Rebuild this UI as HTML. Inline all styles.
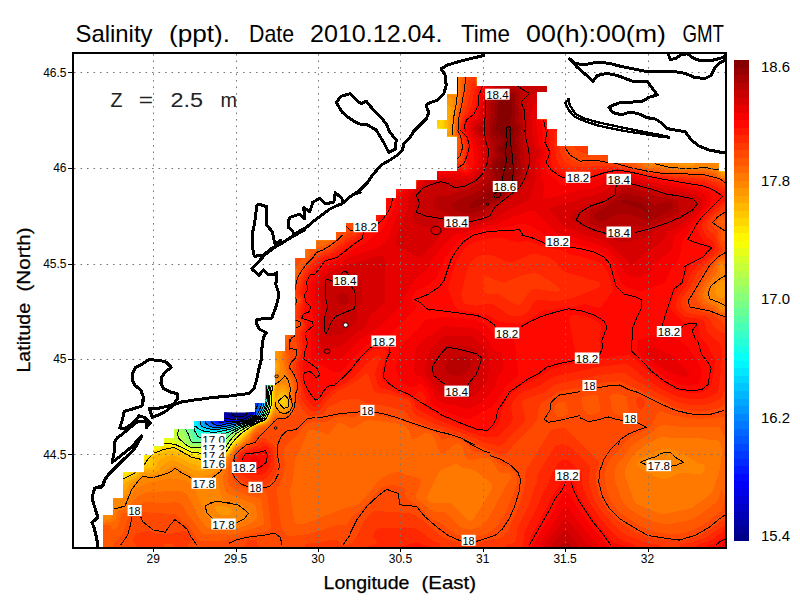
<!DOCTYPE html><html><head><meta charset="utf-8"><style>html,body{margin:0;padding:0;background:#fff;width:800px;height:600px;overflow:hidden}</style></head><body><svg width="800" height="600" viewBox="0 0 800 600" style="position:absolute;left:0;top:0">
<rect width="800" height="600" fill="#fff"/>
<defs><clipPath id="m"><path d="M103 548 103 515 113 515 113 498.2 123 498.2 123 472.5 144.2 472.5 144.2 455.5 154.2 455.5 154.2 446.8 164.2 446.8 164.2 438.2 174.2 438.2 174.2 429.5 194.2 429.5 194.2 421.2 224.2 421.2 224.2 412.5 255 412.5 255 403.5 265.5 403.5 265.5 385.5 275 385.5 275 351.2 285 351.2 285 335 295.5 335 295.5 258 305.5 258 305.5 249.2 316.2 249.2 316.2 240.5 336.2 240.5 336.2 232 346.2 232 346.2 223.2 376.2 223.2 376.2 215 386.2 215 386.2 198 396.2 198 396.2 189 416.8 189 416.8 180.5 437 180.5 437 171.2 457 171.2 457 136.2 447 136.2 447 128.2 437 128.2 437 120.2 447 120.2 447 94.5 457 94.5 457 77 476.2 77 476.2 86 547 86 547 92 537 92 537 119.8 547 119.8 547 129.2 557 129.2 557 146 588 146 588 155 608 155 608 163 718.8 163 718.8 171.8 726 171.8 726 548Z"/></clipPath></defs>
<g clip-path="url(#m)">
<rect x="74" y="54" width="652" height="494" fill="#000087"/>
<g fill-rule="evenodd" shape-rendering="crispEdges">
<path fill="#000097" d="M76 54 726 54 726 548 74 548 74 54ZM230.3 382 230.3 414 232.7 416 240 417.1 244 416.4 247.1 414 247.1 406 246.1 404 238.2 396 238.2 394 236.1 392 236.1 390 234.1 388 234.1 386 232.1 384 232 381.9Z"/>
<path fill="#0000a7" d="M76 54 726 54 726 548 74 548 74 54ZM226.9 376 226.9 414 228.5 416 234.7 418 240 418.2 244 417.6 246.8 416 249 414 249 408 248.1 406 238.3 396 238.3 394 236.3 392 236.3 390 234.3 388 234.3 386 232.2 384 232.2 382 230.2 380 230.1 378 228 376Z"/>
<path fill="#0000b7" d="M76 54 726 54 726 548 74 548 74 54ZM189.9 334 189.9 338 191.9 340 191.9 346 193.9 348 193.9 354 195.9 356 195.9 360 197.9 362 197.9 368 199.9 370 199.9 374 201.9 376 201.9 380 203.9 382 203.9 386 205.9 388 205.9 392 207.9 394 207.9 396 209.9 398 209.9 400 211.9 402 211.9 404 213.9 406 213.9 408 222 416.2 236 418.8 242 418.7 244.8 418 248.2 416 250.3 414 250.1 408 238.5 396 238.5 394 236.5 392 236.5 390 234.5 388 234.5 386 232.4 384 232.4 382 230.4 380 230.2 378 226.1 374 226.1 372 222.1 368 222.1 366 218.1 362 218.1 360 212.1 354 212 352 210 350 208 350 200 342 198 342 190 334Z"/>
<path fill="#0000c7" d="M76 54 726 54 726 548 74 548 74 54ZM189.8 334 189.8 338 191.8 340 191.8 346 193.8 348 193.8 354 195.8 356 195.8 360 197.8 362 197.8 368 199.8 370 199.8 374 201.8 376 201.8 380 203.8 382 203.8 386 205.8 388 205.8 392 207.8 394 207.8 396 209.7 398 209.7 400 211.7 402 211.7 404 213.7 406 213.7 408 224 418 238 419.4 242 419.2 246 418 249.3 416 251.1 414 251.1 410 250.3 408 238.7 396 238.7 394 236.7 392 236.7 390 234.6 388 234.6 386 232.6 384 232.6 382 230.6 380 230.3 378 226.2 374 226.2 372 222.2 368 222.2 366 218.2 362 218.2 360 212.2 354 212.1 352 210 349.9 208 349.9 200 341.9 198 341.9 190 333.9Z"/>
<path fill="#0000d7" d="M76 54 726 54 726 548 74 548 74 54ZM189.7 334 189.7 338 191.7 340 191.7 346 193.7 348 193.7 354 195.7 356 195.7 360 197.7 362 197.7 368 199.7 370 199.7 374 201.7 376 201.7 380 203.7 382 203.7 386 205.6 388 205.6 392 207.6 394 207.6 396 209.6 398 209.6 400 211.5 402 211.5 404 213.4 406 213.4 408 224 418.4 236 420 242 419.7 246 418.4 250.2 416 251.9 414 251.9 410 248.7 406 238.8 396 238.8 394 236.8 392 236.8 390 234.8 388 234.8 386 232.8 384 232.8 382 230.7 380 230.3 378 226.3 374 226.3 372 222.3 368 222.3 366 218.3 362 218.3 360 212.3 354 212.1 352 210 349.9 208 349.9 200 341.9 198 341.9 190 333.9Z"/>
<path fill="#0000e7" d="M76 54 726 54 726 548 74 548 74 54ZM189.6 334 189.6 338 191.6 340 191.6 346 193.6 348 193.6 354 195.6 356 195.6 360 197.6 362 197.6 368 199.6 370 199.6 374 201.6 376 201.6 380 203.6 382 203.6 386 205.5 388 205.5 392 207.5 394 207.5 396 209.4 398 209.4 400 211.3 402 211.3 404 213.2 406 213.2 408 222 417.2 224 418.9 226 419.6 238 420.3 242.8 420 246 418.8 251 416 252 414.8 252.4 414 252.2 410 239 396 239 394 237 392 237 390 235 388 235 386 233 384 233 382 230.9 380 230.4 378 226.3 374 226.3 372 222.3 368 222.3 366 218.3 362 218.3 360 212.3 354 212.2 352 210 349.8 208 349.8 200 341.8 198 341.8 190 333.8Z"/>
<path fill="#0000f7" d="M76 54 726 54 726 548 74 548 74 54ZM189.5 334 189.5 338 191.5 340 191.5 346 193.5 348 193.5 354 195.5 356 195.5 360 197.5 362 197.5 368 199.5 370 199.5 374 201.5 376 201.5 380 203.4 382 203.4 386 205.4 388 205.4 392 207.3 394 207.3 396 209.2 398 209.2 400 211.1 402 211.1 404 213 406 213 408 222 417.5 226 420.4 236 420.8 244.2 420 252 415.7 252.9 414 252.5 410 239.2 396 239.2 394 237.2 392 237.2 390 235.2 388 235.2 386 233.2 384 233.2 382 231.1 380 230.5 378 226.4 374 226.4 372 222.4 368 222.4 366 218.4 362 218.4 360 212.4 354 212.2 352 210 349.8 208 349.8 200 341.8 198 341.8 190 333.8Z"/>
<path fill="#0008ff" d="M76 54 726 54 726 548 74 548 74 54ZM189.5 334 189.5 338 191.5 340 191.5 346 193.5 348 193.5 354 195.5 356 195.5 360 197.5 362 197.5 368 199.4 370 199.4 374 201.4 376 201.4 380 203.3 382 203.3 386 205.3 388 205.3 392 207.2 394 207.2 396 209.1 398 209.1 400 211 402 211 404 212.8 406 212.8 408 222 417.9 226 421.1 236 421.2 245 420 252.4 416 253.4 414 252.7 410 239.4 396 239.4 394 237.4 392 237.4 390 235.4 388 235.4 386 233.3 384 233.3 382 231.3 380 230.6 378 226.5 374 226.5 372 222.5 368 222.5 366 218.5 362 218.5 360 212.5 354 212.3 352 210 349.7 208 349.7 200 341.7 198 341.7 190 333.7Z"/>
<path fill="#0018ff" d="M76 54 726 54 726 548 74 548 74 54ZM189.4 334 189.4 338 191.4 340 191.4 346 193.4 348 193.4 354 195.4 356 195.4 360 197.4 362 197.4 368 199.3 370 199.3 374 201.3 376 201.3 380 203.2 382 203.2 386 205.1 388 205.1 392 207 394 207 396 208.9 398 208.9 400 210.8 402 210.8 404 212.6 406 212.6 408 218 414 218.1 422 222 422.7 230 421.3 236 421.5 242 421 245.8 420 253 416 253.9 414 253.9 412 253 410 239.5 396 239.5 394 237.5 392 237.5 390 235.5 388 235.5 386 233.5 384 233.5 382 231.5 380 230.7 378 226.6 374 226.6 372 222.6 368 222.6 366 218.6 362 218.6 360 212.6 354 212.3 352 210 349.7 208 349.7 200 341.7 198 341.7 190 333.7Z"/>
<path fill="#0028ff" d="M76 54 726 54 726 548 74 548 74 54ZM189.3 334 189.3 338 191.3 340 191.3 346 193.3 348 193.3 354 195.3 356 195.3 360 197.3 362 197.3 368 199.2 370 199.2 374 201.2 376 201.2 380 203.1 382 203.1 386 205 388 205 392 206.9 394 206.9 396 208.7 398 208.7 400 210.6 402 210.6 404 212.4 406 212.4 408 215.8 412 215.8 422 218 423.3 220 423.7 230 421.9 242 421.3 246.4 420 253.5 416 254.4 414 254.4 412 253.3 410 239.7 396 239.7 394 237.7 392 237.7 390 235.7 388 235.7 386 233.7 384 233.7 382 231.7 380 230.8 378 226.7 374 226.7 372 222.7 368 222.7 366 218.7 362 218.7 360 212.7 354 212.3 352 210 349.7 208 349.7 200 341.7 198 341.7 190 333.7Z"/>
<path fill="#0038ff" d="M76 54 726 54 726 548 74 548 74 54ZM189.2 334 189.2 338 191.2 340 191.2 346 193.2 348 193.2 354 195.2 356 195.2 360 197.2 362 197.2 368 199.1 370 199.1 374 201.1 376 201.1 380 203 382 203 386 204.9 388 204.9 392 206.7 394 206.7 396 208.6 398 208.6 400 210.4 402 210.4 404 212.2 406 212.2 408 213.9 410 213.9 422 216.4 424 222 424.3 230 422.4 236 422.2 244 421.2 251.3 418 254.1 416 254.9 414 254.9 412 251.7 408 239.9 396 239.9 394 237.9 392 237.9 390 235.9 388 235.9 386 233.9 384 233.9 382 231.9 380 230.9 378 226.8 374 226.8 372 222.8 368 222.8 366 218.8 362 218.8 360 212.8 354 212.4 352 210 349.6 208 349.6 200 341.6 198 341.6 190 333.6Z"/>
<path fill="#0048ff" d="M76 54 726 54 726 548 74 548 74 54ZM189.1 334 189.1 338 191.1 340 191.1 346 193.1 348 193.1 354 195.1 356 195.1 360 197.1 362 197.1 368 199 370 199 374 200.9 376 200.9 380 202.8 382 202.8 386 204.7 388 204.7 392 206.6 394 206.6 396 208.4 398 208.4 400 210.2 402 210.2 404 212 406 212.1 422 214 424 216 424.7 222 424.9 230 422.9 244 421.5 252 418 254.5 416 255.4 414 255.4 412 252 408 252 407 256 407 256.4 406 256.8 396 256.1 394 254 393.9 248 387.9 246 387.9 244 385.9 242 385.9 240 383.9 238 383.9 234 379.9 232 379.9 231 378 226.9 374 226.9 372 222.9 368 222.9 366 218.9 362 218.9 360 212.9 354 212.4 352 210 349.6 208 349.6 200 341.6 198 341.6 190 333.6Z"/>
<path fill="#0058ff" d="M76 54 726 54 726 548 74 548 74 54ZM189 334 189 338 191 340 191 346 193 348 193 354 195 356 195 360 197 362 197 368 198.9 370 198.9 374 200.8 376 200.8 380 202.7 382 202.7 386 204.6 388 204.6 392 206.4 394 206.4 396 208.3 398 208.3 400 210 402 210.4 422 212.1 424 214 425 220 425.7 230 423.4 244 421.7 252 418.3 255 416 255.8 414 256.2 410 258.1 406 258.6 404 258.6 398 258.1 396 256 393.8 254 393.8 248 387.8 246 387.8 244 385.8 242 385.8 240 383.8 238 383.8 234 379.8 232 379.8 231.1 378 227 374 227 372 223 368 223 366 219 362 219 360 213 354 212.5 352 210 349.5 208 349.5 200 341.5 198 341.5 190 333.5Z"/>
<path fill="#0068ff" d="M76 54 726 54 726 548 74 548 74 54ZM188.9 334 188.9 338 190.9 340 190.9 346 192.9 348 192.9 354 194.9 356 194.9 360 196.9 362 196.9 368 198.8 370 198.8 374 200.7 376 200.7 380 202.6 382 202.6 386 204.5 388 204.5 392 206.3 394 206.3 396 208.1 398 208.1 400 208.8 402 208.8 422 210 423.7 214.3 426 221.9 426 230 424 244 422 252 418.6 255.5 416 256.4 414 257.3 410 259.9 404 259.9 398 256 393.6 254 393.6 248 387.6 246 387.6 244 385.6 242 385.6 240 383.6 238 383.6 234 379.6 232 379.6 231.1 378 227.1 374 227.1 372 223.1 368 223.1 366 219.1 362 219.1 360 213.1 354 212.5 352 210 349.5 208 349.5 200 341.5 198 341.5 190 333.5Z"/>
<path fill="#0078ff" d="M76 54 726 54 726 548 74 548 74 54ZM188.8 334 188.8 338 190.8 340 190.8 346 192.8 348 192.8 354 194.8 356 194.8 360 196.8 362 196.8 368 198.7 370 198.7 374 200.6 376 200.6 380 202.5 382 202.5 386 204.3 388 204.3 392 206.1 394 206.1 396 207.4 398 207.4 422 208.5 424 214 426.6 222 426.5 232 424.1 244 422.3 252 418.9 256 416 260.2 406 260.7 404 260.2 398 256 393.5 254 393.5 248 387.4 246 387.4 244 385.4 242 385.4 240 383.4 238 383.4 234 379.4 232 379.4 231.2 378 227.2 374 227.2 372 223.2 368 223.2 366 219.2 362 219.2 360 213.2 354 212.6 352 210 349.4 208 349.4 200 341.4 198 341.4 190 333.4Z"/>
<path fill="#0087ff" d="M76 54 726 54 726 548 74 548 74 54ZM188.7 334 188.7 338 190.7 340 190.7 346 192.7 348 192.7 354 194.7 356 194.7 360 196.7 362 196.7 368 198.6 370 198.6 374 200.5 376 200.5 380 202.4 382 202.4 386 204.2 388 204.2 392 206 394 206 422 206.8 424 210 426 214 427.2 220 427.2 244 422.5 252 419.2 254.4 418 256.5 416 260.9 406 261.5 404 261.5 400 260.4 398 256 393.3 254 393.3 248 387.3 246 387.3 244 385.3 242 385.3 240 383.3 238 383.3 234 379.3 232 379.3 227.3 374 227.3 372 223.3 368 223.3 366 219.3 362 219.3 360 213.3 354 212.6 352 210 349.4 208 349.4 200 341.4 198 341.4 190 333.4Z"/>
<path fill="#0097ff" d="M76 54 726 54 726 548 74 548 74 54ZM188.6 334 188.6 338 190.6 340 190.6 346 192.6 348 192.6 354 194.6 356 194.6 360 196.6 362 196.6 368 198.5 370 198.5 374 200.4 376 200.4 380 202.3 382 202.3 386 204.1 388 204.1 392 204.7 394 204.7 422 205.3 424 207.9 426 212 427.4 218 427.8 224 427 244 422.7 252 419.5 254.9 418 257 416 262 404.7 262.1 400 256 393.1 254 393.1 248 387.1 246 387.1 244 385.1 242 385.1 240 383.1 238 383.1 234 379.1 232 379.1 227.4 374 227.4 372 223.4 368 223.4 366 219.4 362 219.4 360 213.4 354 212.7 352 210 349.3 208 349.3 200 341.3 198 341.3 190 333.3Z"/>
<path fill="#00a7ff" d="M76 54 726 54 726 548 74 548 74 54ZM188.5 334 188.5 338 190.5 340 190.5 346 192.5 348 192.5 354 194.5 356 194.5 360 196.5 362 196.5 368 198.4 370 198.4 374 200.3 376 200.3 380 202.1 382 202.1 386 203.4 388 203.4 422 204 424.3 205.7 426 208 426.8 212 428.1 216 428.6 226 427.1 244 423 252 419.8 255.4 418 257.5 416 258.5 414 262.2 406 262.7 404 262.3 400 256 393 254 393 248 386.9 246 386.9 244 384.9 242 384.9 240 382.9 238 382.9 234 378.9 232 378.9 227.5 374 227.5 372 223.5 368 223.5 366 219.5 362 219.5 360 213.5 354 212.7 352 210 349.3 208 349.3 200 341.3 198 341.3 190 333.3Z"/>
<path fill="#00b7ff" d="M76 54 726 54 726 548 74 548 74 54ZM188.4 334 188.4 338 190.4 340 190.4 346 192.4 348 192.4 354 194.4 356 194.4 360 196.4 362 196.4 368 198.3 370 198.3 374 200.2 376 200.2 380 202 382 202.2 422 202.4 424 203.8 426 208 427.6 214 429.1 222 428.3 244 423.2 254 419.1 258 416 262 407.9 263.2 404 262.6 400 256 392.8 254 392.8 248 386.8 246 386.8 244 384.8 242 384.8 240 382.8 238 382.8 234 378.8 232 378.8 227.6 374 227.6 372 223.6 368 223.6 366 219.6 362 219.6 360 213.6 354 212.8 352 210 349.2 208 349.2 200 341.2 198 341.2 190 333.2Z"/>
<path fill="#00c7ff" d="M76 54 726 54 726 548 74 548 74 54ZM188.3 334 188.3 338 190.3 340 190.3 346 192.3 348 192.3 354 194.3 356 194.3 360 196.3 362 196.3 368 198.2 370 198.2 374 200.1 376 200.1 380 200.9 382 200.9 422 201.1 424 202.1 426 206.2 428 212 429.4 216 429.6 228 427.7 238 424.7 244 423.4 254 419.4 256.5 418 258.4 416 262 409 263.7 404 263.7 402 262.9 400 256 392.7 254 392.7 248 386.6 246 386.6 244 384.6 242 384.6 240 382.6 238 382.6 234 378.6 232 378.6 227.7 374 227.7 372 223.7 368 223.7 366 219.7 362 219.7 360 213.7 354 212.8 352 210 349.2 208 349.2 200 341.2 198 341.2 190 333.2Z"/>
<path fill="#00d7ff" d="M76 54 726 54 726 548 74 548 74 54ZM188.2 334 188.2 338 190.2 340 190.2 346 192.2 348 192.2 354 194.2 356 194.2 360 196.2 362 196.2 368 198.1 370 198.1 374 199.6 376 199.6 422 199.7 424 200.6 426 204 428.3 212 430 216 430.2 228 428.2 238 425 246 423.1 254 419.7 257 418 258.9 416 262 410.2 264.2 404 264.2 402 263.1 400 256 392.5 254 392.5 248 386.4 246 386.4 244 384.4 242 384.4 240 382.4 238 382.4 234 378.4 232 378.4 227.8 374 227.8 372 223.8 368 223.8 366 219.8 362 219.8 360 213.8 354 212.8 352 210 349.2 208 349.2 200 341.2 198 341.2 190 333.2Z"/>
<path fill="#00e7ff" d="M76 54 726 54 726 548 74 548 74 54ZM188.1 334 188.1 338 190.1 340 190.1 346 192.1 348 192.1 354 194.1 356 194.1 360 196.1 362 196.1 368 198 370 198.2 422 198.3 424 199.1 426 201.2 428 204 429.2 212 430.8 216 430.8 228 428.8 238 425.3 246 423.3 254 420 257.5 418 259.4 416 262 411.2 264.6 404 264.6 402 263.4 400 256 392.3 254 392.3 248 386.3 246 386.3 244 384.3 242 384.3 240 382.3 238 382.3 234 378.3 232 378.3 227.8 374 227.8 372 223.8 368 223.8 366 219.8 362 219.8 360 213.8 354 212.9 352 210 349.1 208 349.1 200 341.1 198 341.1 190 333.1Z"/>
<path fill="#00f7ff" d="M76 54 726 54 726 548 74 548 74 54ZM188 334 188 338 190 340 190 346 192 348 192 354 194 356 194 360 196 362 196.4 424 197.4 426 202 429.5 214 431.7 228 429.3 238 425.6 246 423.6 254.6 420 258 418 259.9 416 262.1 412 265 404 265.1 402 263.6 400 256 392.2 254 392.2 248 386.1 246 386.1 244 384.1 242 384.1 240 382.1 238 382.1 234 378.1 232 378.1 227.9 374 227.9 372 223.9 368 223.9 366 219.9 362 219.9 360 213.9 354 212.9 352 210 349.1 208 349.1 200 341.1 198 341.1 190 333.1Z"/>
<path fill="#08fff7" d="M76 54 726 54 726 548 74 548 74 54ZM123.9 266 123.9 270 125.9 272 125.9 274 127.9 276 127.9 280 129.9 282 129.9 284 131.9 286 131.9 290 133.9 292 133.9 294 135.9 296 135.9 300 137.9 302 137.9 304 139.9 306 139.9 310 141.9 312 141.9 314 143.9 316 143.9 320 145.9 322 145.9 324 147.9 326 147.9 330 149.9 332 149.9 334 151.9 336 151.9 340 153.9 342 153.9 344 155.9 346 155.9 350 157.9 352 157.9 354 159.9 356 159.9 360 161.9 362 161.9 364 163.9 366 163.9 370 165.9 372 165.9 374 167.9 376 167.9 380 169.9 382 169.9 384 171.9 386 171.9 390 173.9 392 173.9 394 175.9 396 175.9 400 177.9 402 177.9 404 179.9 406 179.9 408 181.9 410 181.9 412 183.8 414 183.8 416 194 426.1 196 426.4 202 430.5 212 432.4 214 432.4 228 429.9 237.9 426 246 423.8 255.2 420 258.5 418 260.3 416 264 408.7 265.5 402 263.9 400 264 398.5 266 398.5 266 393.1 258 393.1 256 392 254 392 254 390.3 266 390.3 266 376 264 376 258 370 256 370 254 368 252 368 250 366 248 366 246 364 244 364 242 362 238 362 236 360 232 360 230 358 228 358 226 356 220 356 218 354 214 354 213 352 210 349 208 349 200 341 198 341 190 333 188 333.9 186.1 332 186.1 330 172.1 316 172.1 314 158.1 300 158.1 298 144.1 284 144.1 282 136 273.9 134 273.9 130 269.9 128 269.9 124 265.9Z"/>
<path fill="#18ffe7" d="M76 54 726 54 726 548 74 548 74 54ZM123.7 266 123.7 270 125.7 272 125.7 274 127.7 276 127.7 280 129.7 282 129.7 284 131.7 286 131.7 290 133.7 292 133.7 294 135.7 296 135.7 300 137.7 302 137.7 304 139.7 306 139.7 310 141.7 312 141.7 314 143.7 316 143.7 320 145.7 322 145.7 324 147.7 326 147.7 330 149.7 332 149.7 334 151.7 336 151.7 340 153.7 342 153.7 344 155.7 346 155.7 350 157.7 352 157.7 354 159.7 356 159.7 360 161.7 362 161.7 364 163.7 366 163.7 370 165.7 372 165.7 374 167.7 376 167.7 380 169.7 382 169.7 384 171.7 386 171.7 390 173.7 392 173.7 394 175.7 396 175.7 400 177.7 402 177.7 404 179.7 406 179.7 408 181.7 410 181.7 412 183.6 414 183.6 416 194 426.6 200 430.8 202 431.6 212 433.3 228 430.5 255.7 420 258.9 418 260.8 416 265.3 406 266.4 398 266.9 386 266.9 378 266.1 376 264 375.9 258 369.9 256 369.9 254 367.9 252 367.9 250 365.9 248 365.9 246 363.9 244 363.9 242 361.9 238 361.9 236 359.9 232 359.9 230 357.9 228 357.9 226 355.9 220 355.9 218 353.9 214 353.9 213 352 210 349 208 349 200 341 198 341 190 333 188 333.8 186.2 332 186.2 330 172.2 316 172.2 314 158.2 300 158.2 298 144.2 284 144.2 282 136 273.9 134 273.9 130 269.9 128 269.9 124 265.9Z"/>
<path fill="#28ffd7" d="M76 54 726 54 726 548 74 548 74 54ZM123.6 266 123.6 270 125.6 272 125.6 274 127.6 276 127.6 280 129.6 282 129.6 284 131.6 286 131.6 290 133.6 292 133.6 294 135.6 296 135.6 300 137.6 302 137.6 304 139.6 306 139.6 310 141.6 312 141.6 314 143.6 316 143.6 320 145.6 322 145.6 324 147.6 326 147.6 330 149.6 332 149.6 334 151.6 336 151.6 340 153.6 342 153.6 344 155.6 346 155.6 350 157.6 352 157.6 354 159.6 356 159.6 360 161.6 362 161.6 364 163.6 366 163.6 370 165.6 372 165.6 374 167.6 376 167.6 380 169.6 382 169.6 384 171.6 386 171.6 390 173.6 392 173.6 394 175.6 396 175.6 400 177.6 402 177.6 404 179.6 406 179.6 408 181.5 410 181.5 412 183.5 414 183.5 416 196 429.1 200 432.2 202 433 212 434.4 221.8 432 228 431.1 239.9 426 246 424.3 256.3 420 259.4 418 261.3 416 265.7 406 266.8 398 266.8 392 267.5 386 267.5 378 266.2 376 264 375.8 258 369.8 256 369.8 254 367.8 252 367.8 250 365.8 248 365.8 246 363.8 244 363.8 242 361.8 238 361.8 236 359.8 232 359.8 230 357.8 228 357.8 226 355.8 220 355.8 218 353.8 214 353.8 213.1 352 210 348.9 208 348.9 200 340.9 198 340.9 190 332.9 188 333.8 186.2 332 186.2 330 172.2 316 172.2 314 158.2 300 158.2 298 144.2 284 144.2 282 136 273.8 134 273.8 130 269.8 128 269.8 124 265.8Z"/>
<path fill="#38ffc7" d="M76 54 726 54 726 548 74 548 74 54ZM123.5 266 123.5 270 125.5 272 125.5 274 127.5 276 127.5 280 129.5 282 129.5 284 131.5 286 131.5 290 133.5 292 133.5 294 135.5 296 135.5 300 137.5 302 137.5 304 139.5 306 139.5 310 141.5 312 141.5 314 143.5 316 143.5 320 145.5 322 145.5 324 147.5 326 147.5 330 149.5 332 149.5 334 151.5 336 151.5 340 153.5 342 153.5 344 155.5 346 155.5 350 157.5 352 157.5 354 159.5 356 159.5 360 161.5 362 161.5 364 163.5 366 163.5 370 165.5 372 165.5 374 167.5 376 167.5 380 169.5 382 169.5 384 171.5 386 171.5 390 173.5 392 173.5 394 175.5 396 175.5 400 177.5 402 177.5 404 179.4 406 179.4 408 181.3 410 181.3 412 183.3 414 183.3 416 194.8 428 196 430.6 200 434.2 210 435.5 214 435.2 220 433.2 228 431.8 240 426.4 246 424.6 256.9 420 259.9 418 261.7 416 266.1 406 267.2 398 267.3 390 268 386 268 378 266 375.7 264 375.7 258 369.7 256 369.7 254 367.7 252 367.7 250 365.7 248 365.7 246 363.7 244 363.7 242 361.7 238 361.7 236 359.7 232 359.7 230 357.7 228 357.7 226 355.7 220 355.7 218 353.7 214 353.7 213.1 352 210 348.9 208 348.9 200 340.9 198 340.9 190 332.9 188 333.7 186.3 332 186.3 330 172.3 316 172.3 314 158.3 300 158.3 298 144.3 284 144.3 282 136 273.7 134 273.7 130 269.7 128 269.7 124 265.7Z"/>
<path fill="#48ffb7" d="M76 54 726 54 726 548 74 548 74 54ZM123.3 266 123.3 270 125.3 272 125.3 274 127.3 276 127.3 280 129.3 282 129.3 284 131.3 286 131.3 290 133.3 292 133.3 294 135.3 296 135.3 300 137.3 302 137.3 304 139.3 306 139.3 310 141.3 312 141.3 314 143.3 316 143.3 320 145.3 322 145.3 324 147.3 326 147.3 330 149.3 332 149.3 334 151.3 336 151.3 340 153.3 342 153.3 344 155.3 346 155.3 350 157.3 352 157.3 354 159.3 356 159.3 360 161.3 362 161.3 364 163.3 366 163.3 370 165.3 372 165.3 374 167.3 376 167.3 380 169.3 382 169.3 384 171.3 386 171.3 390 173.3 392 173.3 394 175.3 396 175.3 400 177.3 402 177.3 404 179.3 406 179.3 408 181.2 410 181.2 412 183.1 414 183.1 416 194.1 428 194.2 430 198 436.1 200 437.4 206 436.6 212 436.8 220.2 434 226 433.2 240 426.8 246 424.9 257.4 420 260.4 418 262.2 416 266.5 406 268.4 386 268.1 378 266 375.6 264 375.6 258 369.6 256 369.6 254 367.6 252 367.6 250 365.6 248 365.6 246 363.6 244 363.6 242 361.6 238 361.6 236 359.6 232 359.6 230 357.6 228 357.6 226 355.6 220 355.6 218 353.6 214 353.6 213.2 352 210 348.8 208 348.8 200 340.8 198 340.8 190 332.8 188 333.6 186.4 332 186.4 330 172.4 316 172.4 314 158.4 300 158.4 298 144.4 284 144.4 282 136 273.6 134 273.6 130 269.6 128 269.6 124 265.7Z"/>
<path fill="#58ffa7" d="M76 54 726 54 726 548 74 548 74 54ZM123.2 266 123.2 270 125.2 272 125.2 274 127.2 276 127.2 280 129.2 282 129.2 284 131.2 286 131.2 290 133.2 292 133.2 294 135.2 296 135.2 300 137.2 302 137.2 304 139.2 306 139.2 310 141.2 312 141.2 314 143.2 316 143.2 320 145.2 322 145.2 324 147.2 326 147.2 330 149.2 332 149.2 334 151.2 336 151.2 340 153.2 342 153.2 344 155.2 346 155.2 350 157.2 352 157.2 354 159.2 356 159.2 360 161.2 362 161.2 364 163.2 366 163.2 370 165.2 372 165.2 374 167.2 376 167.2 380 169.2 382 169.2 384 171.2 386 171.2 390 173.2 392 173.2 394 175.2 396 175.2 400 177.2 402 177.2 404 179.1 406 179.1 408 181 410 181 412 182.9 414 182.9 416 192.2 426 192.8 430 196.5 438 198 439.1 200 439.4 212 438.1 220 435.4 226 434.1 238.3 428 258 420 260.9 418 262.6 416 266.8 406 268.8 386 268.8 380 268.2 378 266 375.5 264 375.5 258 369.5 256 369.5 254 367.5 252 367.5 250 365.5 248 365.5 246 363.5 244 363.5 242 361.5 238 361.5 236 359.5 232 359.5 230 357.5 228 357.5 226 355.5 220 355.5 218 353.5 214 353.5 213.2 352 210 348.8 208 348.8 200 340.8 198 340.8 190 332.8 188 333.5 186.5 332 186.5 330 172.5 316 172.5 314 158.5 300 158.5 298 144.5 284 144.5 282 136 273.6 134 273.6 130 269.6 128 269.6 124 265.6Z"/>
<path fill="#68ff97" d="M76 54 726 54 726 548 74 548 74 54ZM123 266 123 270 125 272 125 274 127 276 127 280 129 282 129 284 131 286 131 290 133 292 133 294 135 296 135 300 137 302 137 304 139 306 139 310 141 312 141 314 143 316 143 320 145 322 145 324 147 326 147 330 149 332 149 334 151 336 151 340 153 342 153 344 155 346 155 350 157 352 157 354 159 356 159 360 161 362 161 364 163 366 163 370 165 372 165 374 167 376 167 380 169 382 169 384 171 386 171 390 173 392 173 394 175 396 175 400 177 402 177 404 179 406 179 408 180.8 410 180.8 412 182.7 414 182.7 416 190.1 424 191.1 426 191.1 430 194.1 438 195.6 440 200 440.6 212 439.6 226 435.5 239.2 428 258 420.3 261.4 418 263.1 416 267.2 406 269.1 386 269.1 380 268.3 378 266 375.4 264 375.4 258 369.4 256 369.4 254 367.4 252 367.4 250 365.4 248 365.4 246 363.4 244 363.4 242 361.4 238 361.4 236 359.4 232 359.4 230 357.4 228 357.4 226 355.4 220 355.4 218 353.4 214 353.4 213.3 352 210 348.7 208 348.7 200 340.7 198 340.7 190 332.7 188 333.4 186.6 332 186.6 330 172.6 316 172.6 314 158.6 300 158.6 298 144.6 284 144.6 282 136 273.5 134 273.5 130 269.5 128 269.5 124 265.5Z"/>
<path fill="#78ff87" d="M76 54 726 54 726 548 74 548 74 54ZM122.9 266 122.9 270 124.9 272 124.9 274 126.9 276 126.9 280 128.9 282 128.9 284 130.9 286 130.9 290 132.9 292 132.9 294 134.9 296 134.9 300 136.9 302 136.9 304 138.9 306 138.9 310 140.9 312 140.9 314 142.9 316 142.9 320 144.9 322 144.9 324 146.9 326 146.9 330 148.9 332 148.9 334 150.9 336 150.9 340 152.9 342 152.9 344 154.9 346 154.9 350 156.9 352 156.9 354 158.9 356 158.9 360 160.9 362 160.9 364 162.9 366 162.9 370 164.9 372 164.9 374 166.9 376 166.9 380 168.9 382 168.9 384 170.9 386 170.9 390 172.9 392 172.9 394 174.9 396 174.9 400 176.9 402 176.9 404 178.8 406 178.8 408 180.6 410 180.6 412 182.5 414 182.5 416 188.1 422 188.7 424 188.7 430 192.8 440 194 441 196 441.7 212 441.2 216 440.5 226 437 232.7 432 240.2 428 259.1 420 261.9 418 263.5 416 267 408 268.2 402 268.6 392 269.5 386 269.5 380 268.4 378 266 375.4 264 375.4 258 369.3 256 369.3 254 367.3 252 367.3 250 365.3 248 365.3 246 363.3 244 363.3 242 361.3 238 361.3 236 359.4 232 359.4 230 357.4 228 357.4 226 355.4 220 355.4 218 353.4 214 353.4 213.3 352 210 348.7 208 348.7 200 340.7 198 340.7 190 332.7 188 333.3 186.7 332 186.7 330 172.7 316 172.7 314 158.7 300 158.7 298 144.7 284 144.7 282 136 273.4 134 273.4 130 269.4 128 269.4 124 265.4Z"/>
<path fill="#87ff78" d="M76 54 726 54 726 548 74 548 74 54ZM122.8 266 122.8 270 124.8 272 124.8 274 126.8 276 126.8 280 128.8 282 128.8 284 130.8 286 130.8 290 132.8 292 132.8 294 134.8 296 134.8 300 136.8 302 136.8 304 138.8 306 138.8 310 140.8 312 140.8 314 142.8 316 142.8 320 144.8 322 144.8 324 146.8 326 146.8 330 148.8 332 148.8 334 150.8 336 150.8 340 152.8 342 152.8 344 154.8 346 154.8 350 156.8 352 156.8 354 158.8 356 158.8 360 160.8 362 160.8 364 162.8 366 162.8 370 164.8 372 164.8 374 166.8 376 166.8 380 168.8 382 168.8 384 170.8 386 170.8 390 172.8 392 172.8 394 174.8 396 174.8 400 176.8 402 176.8 404 178.7 406 178.7 408 180.5 410 180.5 412 182.3 414 182.3 416 185.9 420 185.9 430 188.3 434 190.5 440 191.9 442 194 442.8 206 442.3 214 442.9 218 442.4 224 440.1 233.8 432 241.2 428 258 420.9 262 418.3 264 416 266.7 410 268.3 404 268.9 392 269.8 386 269.8 380 266 375.3 264 375.3 258 369.2 256 369.2 254 367.2 252 367.2 250 365.2 248 365.2 246 363.2 244 363.2 242 361.3 238 361.3 236 359.3 232 359.3 230 357.3 228 357.3 226 355.3 220 355.3 218 353.3 214 353.3 210 348.7 208 348.7 200 340.7 198 340.7 190 332.7 188 333.2 186.8 332 186.8 330 172.8 316 172.8 314 158.8 300 158.8 298 144.8 284 144.8 282 136 273.3 134 273.3 130 269.3 128 269.3 124 265.4Z"/>
<path fill="#97ff68" d="M76 54 726 54 726 548 74 548 74 54ZM122.6 266 122.6 270 124.6 272 124.6 274 126.6 276 126.6 280 128.6 282 128.6 284 130.6 286 130.6 290 132.6 292 132.6 294 134.6 296 134.6 300 136.6 302 136.6 304 138.6 306 138.6 310 140.6 312 140.6 314 142.6 316 142.6 320 144.6 322 144.6 324 146.6 326 146.6 330 148.6 332 148.6 334 150.6 336 150.6 340 152.6 342 152.6 344 154.6 346 154.6 350 156.6 352 156.6 354 158.6 356 158.6 360 160.6 362 160.6 364 162.6 366 162.6 370 164.6 372 164.6 374 166.6 376 166.6 380 168.6 382 168.6 384 170.6 386 170.6 390 172.6 392 172.6 394 174.6 396 174.6 400 176.6 402 176.6 404 178.5 406 178.5 408 180.3 410 180.3 412 182.1 414 182.1 416 183.2 418 183.2 430 186 434.3 189.4 442 192 443.9 194 444.2 204 443.4 216 444.8 222 443.7 224 442.7 232.2 434 235 432 242.2 428 260 420.1 264 416.6 267.1 410 268.7 404 269.2 392 270.2 386 270.1 380 266 375.2 264 375.2 258 369.1 256 369.1 254 367.1 252 367.1 250 365.1 248 365.1 246 363.1 244 363.1 242 361.2 238 361.2 236 359.2 232 359.2 230 357.2 228 357.2 226 355.2 220 355.2 218 353.2 214 353.2 210 348.6 208 348.6 200 340.6 198 340.6 190 332.6 188 333.2 186.8 332 186.8 330 172.8 316 172.8 314 158.8 300 158.8 298 144.8 284 144.8 282 136 273.3 134 273.3 130 269.3 128 269.3 124 265.3Z"/>
<path fill="#a7ff58" d="M76 54 726 54 726 548 74 548 74 54ZM122.5 266 122.5 270 124.5 272 124.5 274 126.5 276 126.5 280 128.5 282 128.5 284 130.5 286 130.5 290 132.5 292 132.5 294 134.5 296 134.5 300 136.5 302 136.5 304 138.5 306 138.5 310 140.5 312 140.5 314 142.5 316 142.5 320 144.5 322 144.5 324 146.5 326 146.5 330 148.5 332 148.5 334 150.5 336 150.5 340 152.5 342 152.5 344 154.5 346 154.5 350 156.5 352 156.5 354 158.5 356 158.5 360 160.5 362 160.5 364 162.5 366 162.5 370 164.5 372 164.5 374 166.5 376 166.5 380 168.5 382 168.5 384 170.5 386 170.5 390 172.5 392 172.5 394 174.5 396 174.5 400 176.5 402 176.5 404 178.4 406 178.4 408 180.1 410 180.1 412 181.1 414 181.1 430 182 432.7 184.3 436 187.3 442 189.2 444 192 445.3 202 444.4 218 446.6 222.7 446 224 445.3 233.3 434 236.2 432 243.3 428 260 420.4 264 417.3 266.7 412 268.7 406 269.4 400 269.6 392 270.5 386 270.2 380 266 375.1 264 375.1 258 369 256 369 254 367 252 367 250 365 248 365 246 363.1 244 363.1 242 361.1 238 361.1 236 359.1 232 359.1 230 357.1 228 357.1 226 355.1 220 355.1 218 353.1 214 353.1 210 348.6 208 348.6 200 340.6 198 340.6 190 332.6 188 333.1 186.9 332 186.9 330 172.9 316 172.9 314 158.9 300 158.9 298 144.9 284 144.9 282 136 273.2 134 273.2 130 269.2 128 269.2 124 265.2Z"/>
<path fill="#b7ff48" d="M76 54 726 54 726 548 74 548 74 54ZM122.3 266 122.3 270 124.3 272 124.3 274 126.3 276 126.3 280 128.3 282 128.3 284 130.3 286 130.3 290 132.3 292 132.3 294 134.3 296 134.3 300 136.3 302 136.3 304 138.3 306 138.3 310 140.3 312 140.3 314 142.3 316 142.3 320 144.3 322 144.3 324 146.3 326 146.3 330 148.3 332 148.3 334 150.3 336 150.3 340 152.3 342 152.3 344 154.3 346 154.3 350 156.3 352 156.3 354 158.3 356 158.3 360 160.3 362 160.3 364 162.3 366 162.3 370 164.3 372 164.3 374 166.3 376 166.3 380 168.3 382 168.3 384 170.3 386 170.3 390 172.3 392 172.3 394 174.3 396 174.3 400 176.3 402 176.3 404 178.2 406 178.2 408 179.6 410 179.5 432 180.8 436 186.9 444 192 446.6 194 446.8 202 445.6 220 448.4 222 448.3 224 447.5 234.5 434 244.3 428 261.4 420 263.9 418 265.3 416 269.1 406 269.9 392 270.8 386 270.3 380 266 375 264 375 258 368.9 256 368.9 254 366.9 252 366.9 250 364.9 248 364.9 246 363 244 363 242 361 238 361 236 359 232 359 230 357 228 357 226 355 220 355 218 353 214 353 210 348.5 208 348.5 200 340.5 198 340.5 190 332.5 188 333 187 332 187 330 173 316 173 314 159 300 159 298 145 284 145 282 136 273.1 134 273.1 130 269.1 128 269.1 124 265.2Z"/>
<path fill="#c7ff38" d="M76 54 726 54 726 548 74 548 74 54ZM122.2 266 122.2 270 124.2 272 124.2 274 126.2 276 126.2 280 128.2 282 128.2 284 130.2 286 130.2 290 132.2 292 132.2 294 134.2 296 134.2 300 136.2 302 136.2 304 138.2 306 138.2 310 140.2 312 140.2 314 142.2 316 142.2 320 144.2 322 144.2 324 146.2 326 146.2 330 148.2 332 148.2 334 150.2 336 150.2 340 152.2 342 152.2 344 154.2 346 154.2 350 156.2 352 156.2 354 158.2 356 158.2 360 160.2 362 160.2 364 162.2 366 162.2 370 164.2 372 164.2 374 166.2 376 166.2 380 168.2 382 168.2 384 170.2 386 170.2 390 172.2 392 172.2 394 174.2 396 174.2 400 176.2 402 176.2 404 178 406 178.4 430 177.3 434 178.1 438 179.6 440 182 441.1 184.8 444 188 446.1 192 447.8 194 448.1 202 447 220 449.8 222 449.9 224 449.2 226 447.1 229 442 235.7 434 248.9 426 262 420 264.4 418 265.8 416 269.5 406 270.3 392 271.1 386 271.1 382 270.5 380 266 374.9 264 374.9 258 368.8 256 368.8 254 366.8 252 366.8 250 364.8 248 364.8 246 362.9 244 362.9 242 360.9 238 360.9 236 358.9 232 358.9 230 356.9 228 356.9 226 354.9 220 354.9 218 352.9 214 352.9 210 348.5 208 348.5 200 340.5 198 340.5 190 332.5 188 332.9 187.1 332 187.1 330 173.1 316 173.1 314 159.1 300 159.1 298 145.1 284 145.1 282 136 273 134 273 130 269.1 128 269.1 124 265.1Z"/>
<path fill="#d7ff28" d="M76 54 726 54 726 548 74 548 74 54ZM122.1 266 122.1 270 124.1 272 124.1 274 126.1 276 126.1 280 128.1 282 128.1 284 130.1 286 130.1 290 132.1 292 132.1 294 134.1 296 134.1 300 136.1 302 136.1 304 138.1 306 138.1 310 140.1 312 140.1 314 142.1 316 142.1 320 144.1 322 144.1 324 146.1 326 146.1 330 148.1 332 148.1 334 150.1 336 150.1 340 152.1 342 152.1 344 154.1 346 154.1 350 156.1 352 156.1 354 158.1 356 158.1 360 160.1 362 160.1 364 162.1 366 162.1 370 164.1 372 164.1 374 166.1 376 166.1 380 168.1 382 168.1 384 170.1 386 170.1 390 172.1 392 172.1 394 174.1 396 174.1 400 176.1 402 176.1 404 176.8 406 176.8 430 176 431.2 170 431.2 169.6 432 174.9 438 175.1 440 178 442 182 443.5 188 447.3 192 449 196 449.2 202 448.6 220 451 224 450.5 226 448.7 230 442 237 434 249.6 426 262 420.4 264.9 418 267.2 414 269.8 406 271.4 386 271.4 382 270.6 380 266 374.8 264 374.8 258 368.7 256 368.7 254 366.7 252 366.7 250 364.7 248 364.7 246 362.8 244 362.8 242 360.8 238 360.8 236 358.8 232 358.8 230 356.8 228 356.8 226 354.8 220 354.8 218 352.8 214 352.8 210 348.4 208 348.4 200 340.4 198 340.4 190 332.4 188 332.8 187.2 332 187.2 330 173.2 316 173.2 314 159.2 300 159.2 298 145.2 284 145.2 282 136 273 134 273 130 269 128 269 124 265Z"/>
<path fill="#e7ff18" d="M76 54 726 54 726 548 74 548 74 336.4 167.2 430 170 434 170.2 440 173.8 442 180 444.2 192 450.2 202 450.3 220 452 224 451.5 226 450.1 230 443.3 238.2 434 250.3 426 262 420.7 265.4 418 268.4 412 270.3 406 271.7 386 271.7 382 270.7 380 266 374.8 264 374.8 258 368.7 256 368.7 254 366.6 252 366.6 250 364.7 248 364.7 246 362.7 244 362.7 242 360.7 238 360.7 236 358.7 232 358.7 230 356.7 228 356.7 226 354.7 220 354.7 218 352.7 214 352.7 210 348.4 208 348.4 200 340.4 198 340.4 190 332.4 188 332.7 187.3 332 187.3 330 173.3 316 173.3 314 159.3 300 159.3 298 145.3 284 145.3 282 136 272.9 134 272.9 130 268.9 128 268.9 124 264.9 122 265.9 118 261.9 116 261.9 112 257.9 110 257.9 104 251.9 102 251.9 98 247.9 96 247.9 90 241.9 88 241.9 84 237.9 82 237.9 78 233.9 76 233.9 74 231.9 74 54Z"/>
<path fill="#f7ff08" d="M76 54 726 54 726 548 74 548 74 337.1 84.9 348 85.8 350 93.8 358 93.8 360 101.8 368 101.8 370 109.8 378 109.8 380 117.8 388 117.8 390 125.8 398 125.8 400 133.8 408 133.8 410 141.8 418 141.8 420 149.8 428 149.8 430 159.8 440 162 440.8 166 440.8 168.1 442 178 444.6 192 451.4 218 453 224 452.4 226 451.1 231.9 442 239.4 434 251 426 262 421.1 265.9 418 268.9 412 270.7 406 272.1 386 272 382 270.9 380 266 374.7 264 374.7 258 368.6 256 368.6 254 366.5 252 366.5 250 364.6 248 364.6 246 362.6 244 362.6 242 360.6 238 360.6 236 358.6 232 358.6 230 356.7 228 356.7 226 354.7 220 354.7 218 352.7 214 352.7 210 348.3 208 348.3 200 340.3 198 340.3 190 332.3 188 332.6 187.4 332 187.4 330 173.4 316 173.4 314 159.4 300 159.4 298 145.4 284 145.4 282 136 272.8 134 272.8 130 268.8 128 268.8 124 264.9 122 265.8 118 261.8 116 261.8 112 257.8 110 257.8 104 251.8 102 251.8 98 247.8 96 247.8 90 241.8 88 241.8 84 237.8 82 237.8 78 233.8 76 233.8 74 231.8 74 54Z"/>
<path fill="#fff700" d="M76 54 726 54 726 548 74 548 74 337.9 84.1 348 84.3 350 92.3 358 92.3 360 100.3 368 100.3 370 108.3 378 108.3 380 116.3 388 116.3 390 124.3 398 124.3 400 132.3 408 132.3 410 140.3 418 140.3 420 148.3 428 148.3 430 156.3 438 161.2 442 164 443.5 176 445 192 452.6 206 454 216 454.2 224 453.2 226 452.1 232 443.1 240.6 434 251.7 426 264 420.4 266.5 418 270.8 408 272.5 386 272.3 382 271 380 266 374.6 264 374.6 258 368.5 256 368.5 254 366.4 252 366.4 250 364.5 248 364.5 246 362.5 244 362.5 242 360.5 238 360.5 236 358.6 232 358.6 230 356.6 228 356.6 226 354.6 220 354.6 218 352.6 214 352.6 210 348.3 208 348.3 200 340.3 198 340.3 190 332.3 188 332.6 187.4 332 187.4 330 173.4 316 173.4 314 159.4 300 159.4 298 145.4 284 145.4 282 136 272.7 134 272.7 130 268.8 128 268.8 124 264.8 122 265.6 118 261.6 116 261.6 112 257.6 110 257.6 104 251.6 102 251.6 98 247.6 96 247.6 90 241.6 88 241.6 84 237.6 82 237.6 78 233.6 76 233.6 74 231.6 74 54Z"/>
<path fill="#ffe700" d="M76 54 726 54 726 548 74 548 74 356 74 358 82 366 82 368 90 376 90 378 98 386 98 388 106 396 106 398 114 406 114 408 122 416 122 418 130 426 130 428 138 436 138 438 146 446 152 449.6 156 449.6 159.8 448 160 441.9 164 444.6 176 446 190 453.1 194 454.2 204 455.4 214 455.7 224 453.9 226 453 228 450.7 232 444.2 241.9 434 252.5 426 264 420.9 267 418 271.3 408 272.8 386 272.5 382 271.1 380 266 374.5 264 374.5 258 368.4 256 368.4 254 366.4 252 366.4 250 364.4 248 364.4 246 362.4 244 362.4 242 360.5 238 360.5 236 358.5 232 358.5 230 356.5 228 356.5 226 354.5 220 354.5 218 352.5 214 352.5 210 348.2 208 348.2 200 340.2 198 340.2 190 332.2 188 332.5 187.5 332 187.5 330 173.5 316 173.5 314 159.5 300 159.5 298 145.5 284 145.5 282 136 272.7 134 272.7 130 268.7 128 268.7 124 264.7 122 265.5 118 261.5 116 261.5 112 257.5 110 257.5 104 251.5 102 251.5 98 247.5 96 247.5 90 241.5 88 241.5 84 237.5 82 237.5 78 233.5 76 233.5 74 231.5 74 54Z"/>
<path fill="#ffd700" d="M76 54 726 54 726 548 74 548 74 468.2 76 470.2 80 470.2 82 472.2 84 472.2 86 474.2 90 474.2 92 476 124 476.2 127.7 474 127.7 456 132 458.5 134 459 146 459 148.6 456 148.6 450 150 449.4 152 450.7 154 451.1 158 450.8 159.8 450 162 448 162 444 166 446.6 172 446.5 176 447.3 190 454.4 194 455.5 202 456.9 214 457.7 224 454.7 226 453.8 227.9 452 233.2 444 245.5 432 253.3 426 264 421.4 267.5 418 271.8 408 272.7 400 272.5 394 273.2 386 272.7 382 271.3 380 266 374.4 264 374.4 258 368.3 256 368.3 254 366.3 252 366.3 250 364.3 248 364.3 246 362.3 244 362.3 242 360.4 238 360.4 236 358.4 232 358.4 230 356.4 228 356.4 226 354.4 220 354.4 218 352.4 214 352.4 210 348.2 208 348.2 200 340.2 198 340.2 190 332.2 187.6 332 187.6 330 173.6 316 173.6 314 159.6 300 159.6 298 145.6 284 145.6 282 136 272.6 134 272.6 130 268.6 128 268.6 124 264.7 122 265.3 118 261.4 116 261.4 112 257.4 110 257.4 104 251.4 102 251.4 98 247.4 96 247.4 90 241.4 88 241.4 84 237.4 82 237.4 78 233.4 76 233.4 74 231.4 74 54Z"/>
<path fill="#ffc700" d="M76 54 726 54 726 548 74 548 74 468.6 76 470.6 80 470.6 82 472.6 84 472.6 86 474.6 90 474.6 92 476.4 94 476.4 96 477.9 124 477.9 128 476.5 131.4 474 131.4 460 132.3 460 138 464 148 464.4 149.2 464 150.2 462 149.9 460 150.7 456 150.7 452 152 451.5 154 452.5 158 452.3 164 448.9 170 448 174 448.1 176 448.8 192 456.8 202 458.8 214 460 216 459.7 220 456.9 226.7 454 234 444.2 239 440 244.4 434 251.1 428 254.1 426 264 421.9 266.5 420 269.2 416 272.4 408 273.3 400 273.1 394 273.7 388 273.6 384 273 382 271.4 380 266 374.3 264 374.3 258 368.2 256 368.2 254 366.2 252 366.2 250 364.2 248 364.2 246 362.2 244 362.2 242 360.3 238 360.3 236 358.3 232 358.3 230 356.3 228 356.3 226 354.3 220 354.3 218 352.3 214 352.3 210 348.2 208 348.2 200 340.2 198 340.2 190 332.2 187.7 332 187.7 330 173.7 316 173.7 314 159.7 300 159.7 298 145.7 284 145.7 282 136 272.5 134 272.5 130 268.5 128 268.5 124 264.6 122 265.2 118 261.2 116 261.2 112 257.2 110 257.2 104 251.2 102 251.2 98 247.2 96 247.2 90 241.2 88 241.2 84 237.2 82 237.2 78 233.2 76 233.2 74 231.2 74 54ZM439.6 114 439.6 122 438 123.8 364 123.8 366 124 370 128.1 372 128.1 374 130.1 376 130.1 380 134.1 382 134.1 386 138.1 388 138.1 390 140.1 392 140.1 394 142.1 398 142.1 400 144.1 402 144.1 404 146.1 408 146.1 410 148.1 414 148.1 416 150.1 428 150.1 430.2 148 430.2 146 441.9 134 441.9 128 442.9 124 442.8 118 442.2 116 440 113.9ZM282.3 400 281.6 402 282 402.8 284 403.9 285 402 284 399.6Z"/>
<path fill="#ffb700" d="M76 54 259.8 54 272 66.2 274 66.2 286 78.2 288 78.1 290 80.1 292 80.1 296 84.1 298 84.1 300 86.1 302 86.1 306 90.1 308 90.1 310 92.1 312 92.1 314 94.1 316 94.1 320 98.1 322 98.1 324 100.1 326 100.1 330 104.1 332 104.1 334 106.1 336 106.1 340 110.1 342 110.1 344 112.1 346 112.1 348 114.1 350 114.1 354 118.1 356 118.1 358 120.1 360 120.1 364 124.2 366 124.2 370 128.2 372 128.2 374 130.2 376 130.2 380 134.2 382 134.2 386 138.2 388 138.2 390 140.2 392 140.2 394 142.2 398 142.2 400 144.2 402 144.2 404 146.2 408 146.2 410 148.2 414 148.2 416 150.2 428.7 150 430.7 148 430.7 146 444.4 132 445.3 130 445.5 120 444.7 118 443 116 438 111.3 436 111.3 430 105.5 428 105.5 426 103.6 424 103.6 422 101.6 420 101.6 418 99.6 416 99.6 414 97.6 410 97.6 408 95.6 406 95.6 404 93.6 400 93.6 398 91.6 394 91.6 392 89.6 390 89.6 388 87.6 384 87.6 382 85.6 380 85.6 378 83.6 374 83.6 372 81.6 368 81.6 366 79.6 364 79.6 362 77.6 358 77.6 356 75.6 354 75.6 352 73.6 348 73.6 346 71.6 342 71.6 340 69.6 338 69.6 336 67.6 332 67.6 330 65.6 328 65.6 326 63.6 322 63.6 320 61.6 316 61.6 314 59.6 312 59.6 310 57.6 306 57.6 304 55.6 302 55.6 300.4 54 726 54 726 548 74 548 74 468.9 76 470.9 80 470.9 82 472.9 84 472.9 86 474.9 90 474.9 92 476.8 94 476.8 96 478.4 98 478.4 100 479.9 124 479.9 136 475.2 136.8 474 136.8 466 138 465.3 142 467.5 150 467.5 152 466.9 153 466 153.5 464 153.2 460 154 456 164 451.9 170 450.7 174 450.8 178 452 192 459.2 200 461.2 216 462.4 218 461.2 220.6 458 226 455.4 228 453.8 234 445.3 240 440.3 252 428 255 426 264 422.4 268 419 273.2 408 273.9 400 273.6 394 274.2 388 274 384 273.2 382 266 374.2 264 374.2 258 368.1 256 368.1 254 366.1 252 366.1 250 364.1 248 364.1 246 362.1 244 362.1 242 360.2 238 360.2 236 358.2 232 358.2 230 356.2 228 356.2 226 354.2 220 354.2 218 352.2 214 352.2 210 348.1 208 348.1 200 340.1 198 340.1 190 332.1 187.8 332 187.8 330 173.8 316 173.8 314 159.8 300 159.8 298 145.8 284 145.8 282 136 272.4 134 272.4 130 268.5 128 268.5 124 264.5 122 265.1 118 261.1 116 261.1 112 257.1 110 257.1 104 251.1 102 251.1 98 247.1 96 247.1 90 241.1 88 241.1 84 237.1 82 237.1 78 233.1 76 233.1 74 231.1 74 54ZM281.9 396 279 400 279 402 280 404.2 282 406.4 284 406.9 286.1 406 287.1 404 287.2 402 286.2 398 284 395.7 282 396Z"/>
<path fill="#ffa700" d="M76 54 259.6 54 272 66.4 274 66.4 286 78.4 288 78.3 290 80.3 292 80.3 296 84.3 298 84.3 300 86.3 302 86.3 306 90.3 308 90.3 310 92.3 312 92.3 314 94.3 316 94.3 320 98.3 322 98.3 324 100.3 326 100.3 330 104.3 332 104.3 334 106.3 336 106.3 340 110.3 342 110.3 344 112.3 346 112.3 348 114.3 350 114.3 354 118.3 356 118.3 358 120.3 360 120.3 364 124.3 366 124.3 370 128.4 372 128.4 374 130.4 376 130.4 380 134.4 382 134.4 386 138.4 388 138.4 390 140.4 392 140.3 394 142.3 398 142.3 400 144.3 402 144.3 404 146.3 408 146.3 410 148.3 414 148.3 416 150.3 429.1 150 431.1 148 431.1 146 447.4 130 447.9 128 447.5 120 438 110.3 436 110.3 430 104.8 428 104.8 426 103 424 103 422 101 420 101 418 99.1 416 99.1 414 97.1 410 97.1 408 95.1 406 95.1 404 93.1 400 93.1 398 91.1 394 91.1 392 89.1 390 89.1 388 87.1 384 87.1 382 85.1 380 85.1 378 83.1 374 83.1 372 81.1 368 81.1 366 79.1 364 79.1 362 77.1 358 77.1 356 75.1 354 75.1 352 73.1 348 73.1 346 71.1 342 71.1 340 69.1 338 69.1 336 67.1 332 67.1 330 65.1 328 65.1 326 63.1 322 63.1 320 61.1 316 61.1 314 59.1 312 59.1 310 57.1 306 57.1 304 55.1 302 55.1 300.9 54 726 54 726 548 74 548 74 469.2 76 471.2 80 471.2 82 473.2 84 473.2 86 475.2 90 475.2 92 477.1 94 477.1 96 478.9 98 478.9 100 480.6 102 480.6 104 482.3 106 482.3 108 484.1 110 484.5 124 484.5 129.4 480 136 477.4 137.9 476 138.8 474 138.8 468 140 467.4 144 470 150 470.3 154 469.5 156.1 468 157.4 462 158 461 164 457.3 168 455.7 172 455.3 176.6 456 190 463 200 466.1 208 464.8 216 465.1 218.4 464 222.9 458 228 454.7 234 446.3 240 441.6 252.9 428 255.9 426 264 423 267.9 420 269.4 418 273.2 410 274.4 404 276 400.4 279.3 406 282 408.7 284 408.8 286 407.9 288 406.1 288.5 404 287.8 398 286 394 284 392.4 282 392 280 393.1 276 398.4 274.7 394 275.1 390 274.6 384 273.4 382 266 374.1 264 374.1 258 368 256 368 276 367.8 276.4 366 276 364 248 364 246 362.1 244 362.1 242 360.1 238 360.1 236 358.1 232 358.1 230 356.1 228 356.1 226 354.1 220 354.1 218 352.1 214 352.1 210 348.1 208 348.1 200 340.1 198 340.1 190 332.1 187.9 332 187.9 330 173.9 316 173.9 314 159.9 300 159.9 298 145.9 284 145.9 282 136 272.4 134 272.4 130 268.4 128 268.4 124 264.5 122 264.9 118 260.9 116 260.9 112 256.9 110 256.9 104 250.9 102 250.9 98 246.9 96 246.9 90 240.9 88 240.9 84 236.9 82 236.9 78 232.9 76 232.9 74 230.9 74 54Z"/>
<path fill="#ff9700" d="M76 54 259.3 54 272 66.7 274 66.7 286 78.7 288 78.5 290 80.5 292 80.5 296 84.5 298 84.5 300 86.5 302 86.5 306 90.5 308 90.5 310 92.5 312 92.5 314 94.5 316 94.5 320 98.5 322 98.5 324 100.5 326 100.5 330 104.5 332 104.5 334 106.5 336 106.5 340 110.5 342 110.5 344 112.5 346 112.5 348 114.5 350 114.5 354 118.5 356 118.5 358 120.5 360 120.5 364 124.5 366 124.5 370 128.6 372 128.6 374 130.6 376 130.6 380 134.6 382 134.6 386 138.6 388 138.6 390 140.6 392 140.5 394 142.5 398 142.5 400 144.5 402 144.5 404 146.5 408 146.5 410 148.5 414 148.5 416 150.5 428 150.5 429.6 150 431.6 148 431.6 146 442 135.6 446 132.3 448 132.3 450 130.2 449.8 122 451 110 450.6 108 449.4 106 448 105 432 105 430 104.1 428 104.1 426 102.3 424 102.3 422 100.5 420 100.5 418 98.5 416 98.5 414 96.6 410 96.6 408 94.6 406 94.6 404 92.6 400 92.6 398 90.6 394 90.6 392 88.6 390 88.6 388 86.6 384 86.6 382 84.6 380 84.6 378 82.6 374 82.6 372 80.6 368 80.6 366 78.6 364 78.6 362 76.6 358 76.6 356 74.6 354 74.6 352 72.6 348 72.6 346 70.6 342 70.6 340 68.6 338 68.6 336 66.6 332 66.6 330 64.6 328 64.6 326 62.6 322 62.6 320 60.6 316 60.6 314 58.6 312 58.6 310 56.6 306 56.6 304 54.6 302 54.6 301.4 54 726 54 726 165.7 723.8 168 723.1 170 723.1 172 724 173.9 726 174.1 726 548 74 548 74 469.5 76 471.5 80 471.5 82 473.5 84 473.5 86 475.5 90 475.5 92 477.5 94 477.5 96 479.4 98 479.4 100 481.2 102 481.2 104 483 106 483 112 488.5 114 488.5 118 491.2 124 491.2 126 489.4 130 483.2 134 480.3 138 478.2 140 476 140.9 474 140.9 470 142 469.6 146 472.5 148 472.8 152 472.9 156 472 159.3 470 162 465.4 170 460.8 172 460.3 176 460.7 186 466.4 198 471.5 204 471 212 468.2 218 467.4 220 465.7 223.2 460 229.6 454 234 447.4 240.9 442 253.9 428 256.9 426 266 422.5 268.8 420 275.2 408 276 405.6 281 410 282 410.5 284 410.4 288.1 408 289.3 406 289.5 404 289 398 287 392 286 390.4 284 388.9 282 388.3 280 389.2 278 391.1 276.4 390 275.3 384 266 374.1 264 374.1 262 372 262 371.6 276 371.6 277 370 278 366 277.8 364 276 360.6 244 360.6 242 360 238 360 236 358 232 358 230 356 228 356 226 354 220 354 218 352 214 352 210 348 208 348 200 340 198 340 190 332 188 332 188 330 174 316 174 314 160 300 160 298 146 284 146 282 136 272.3 134 272.3 130 268.3 128 268.3 124 264.4 122 264.8 118 260.8 116 260.8 112 256.8 110 256.8 104 250.8 102 250.8 98 246.8 96 246.8 90 240.8 88 240.8 84 236.8 82 236.8 78 232.8 76 232.8 74 230.8 74 54Z"/>
<path fill="#ff8700" d="M76 54 259.1 54 272 66.9 274 66.9 286 78.9 288 78.7 290 80.7 292 80.7 296 84.7 298 84.7 300 86.7 302 86.7 306 90.7 308 90.7 310 92.7 312 92.7 314 94.7 316 94.7 320 98.7 322 98.7 324 100.7 326 100.7 330 104.7 332 104.7 334 106.7 336 106.7 340 110.7 342 110.7 344 112.7 346 112.7 348 114.7 350 114.7 354 118.7 356 118.7 358 120.7 360 120.7 364 124.7 366 124.7 370 128.7 372 128.7 374 130.7 376 130.7 380 134.7 382 134.7 386 138.7 388 138.7 390 140.7 392 140.6 394 142.6 398 142.6 400 144.6 402 144.6 404 146.6 408 146.6 410 148.6 414 148.6 416 150.6 428 150.6 430 150 434 150 436 152 440 152 446 146.1 448.1 146 449 144 449 136 450 135.1 452 130.5 451.8 122 453.7 108 451.9 98 450 96.9 448 98.3 416 98 414 96.1 410 96.1 408 94.1 406 94.1 404 92.1 400 92.1 398 90.1 394 90.1 392 88.1 390 88.1 388 86.1 384 86.1 382 84.1 380 84.1 378 82.1 374 82.1 372 80.1 368 80.1 366 78.1 364 78.1 362 76.1 358 76.1 356 74.1 354 74.1 352 72.1 348 72.1 346 70.1 342 70.1 340 68.1 338 68.1 336 66.1 332 66.1 330 64.1 328 64.1 326 62.1 322 62.1 320 60.1 316 60.1 314 58.1 312 58.1 310 56.1 306 56.1 304 54.1 301.9 54 676.5 54 676.5 164 683 166 688 166.6 693.6 166 695.2 164 695.2 54 726 54 726 164.6 721.1 170 720.5 172 721 174 722 175.1 724 176.2 726 176 726 548 74 548 74 469.9 76 471.9 80 471.9 82 473.9 84 473.9 86 475.9 90 475.9 92 477.8 94 477.8 96 479.8 98 479.8 100 481.8 102 481.8 104 483.7 106 483.7 112 489.6 114.5 490 120 495.9 122 497.1 124 497.5 126.1 496 130.7 488 133.8 484 144 475.6 152 475.8 158 474.6 162 472.9 172 466.3 174 465.7 176.1 466 184 470.8 196 477 200 477 208 475.4 211.6 474 220 469.2 225.2 460 230 454.7 234.5 448 240.1 444 248 436.7 251.2 432 255.2 428 257.9 426 266 423.3 268 421.8 269.7 420 272 415.3 276 410 278 410.2 281.5 412 284 411.9 288 409.8 289.8 408 290.4 406 290.1 398 289 392 288 388.2 286.4 386 284 384.3 282 384.1 278 386.4 268 376 268 375.6 276 375.6 278 374 279.8 370 280.1 366 278.7 358 278.8 346 278.2 344 276 341.6 274 341.6 268 335.6 266 335.6 264 333.6 262 333.6 258 329.6 256 329.6 252 325.6 250 325.6 248 323.6 246 323.6 242 319.6 240 319.6 236 315.6 234 315.6 232 313.6 230 313.6 226 309.6 224 309.6 220 305.6 218 305.6 216 303.6 214 303.6 210 299.6 208 299.6 204.4 296 202 295.6 200 293.8 198 293.8 196 291.8 190 291.8 188 289.8 184 289.8 182 287.8 178 287.8 176 285.8 172 285.8 170 283.8 164 283.8 162 281.8 158 281.8 156 279.8 150 279.8 148 277.7 142 277.7 136 272.2 134 272.2 130 268.2 128 268.2 124 264.3 122 264.6 118 260.6 116 260.6 112 256.6 110 256.6 104 250.6 102 250.6 98 246.6 96 246.6 90 240.6 88 240.6 84 236.6 82 236.6 78 232.6 76 232.6 74 230.6 74 54ZM721.6 280 716.2 284 714.8 286 714.5 288 715.8 294 717 296 720 298 722 298.6 723.1 298 724 297.3 725 294 725.4 284 725.1 282 724 280 722 279.7ZM215.7 506 215 508 216 510 218 512.5 220 513.9 226 515.4 230 515.2 231.3 514 231.6 512 231.3 510 229.8 508 222 506 218 505.5 216 505.8Z"/>
<path fill="#ff7800" d="M76 54 258.9 54 272 67.1 274 67.1 286 79.1 288 78.8 290 80.8 292 80.8 296 84.8 298 84.8 300 86.8 302 86.8 306 90.8 308 90.8 310 92.8 312 92.8 314 94.8 316 94.8 320 98.8 322 98.8 324 100.8 326 100.8 330 104.8 332 104.8 334 106.8 336 106.8 340 110.8 342 110.8 344 112.8 346 112.8 348 114.8 350 114.8 354 118.8 356 118.8 358 120.8 360 120.8 364 124.9 366 124.9 370 128.9 372 128.9 374 130.9 376 130.9 380 134.9 382 134.9 386 138.9 388 138.9 390 140.9 392 140.8 394 142.8 398 142.8 400 144.8 402 144.8 404 146.8 408 146.8 410 148.8 414 148.8 416 150.8 428 150.8 430 150.2 434 150.2 436 152.2 440 152.2 446 146.6 448 146.6 452.2 142 453.5 130 453.5 122 456 106 456.7 94 448 84.5 446 84.5 440 78.3 438 78.3 436 76.3 434 76.3 432 74.3 430 74.3 426 70.3 424 70.3 422 68.3 420 68.3 418 66.3 416 66.3 414 64.3 412 64.3 408 60.3 406 60.3 404 58.3 402 58.3 400 56.3 398 56.3 396 54.3 393.7 54 652 54 650 56 649.9 60 648.8 62 648.8 164 650 166.1 654 164.2 655.4 164 655.4 54 656.7 54 656.7 164 664 166.2 676.7 168 690 168.9 704 167.8 712 168.4 716 169.5 718 171 719.1 174 722 176.8 724 177.4 726 177.1 726 270.3 724 265.9 722.4 264 721.4 264 720 265.1 719.5 268 720.2 274 719.7 276 712 283.5 710.1 286 708 291.3 707.5 294 708.9 298 711.2 300 716 302.3 717.9 304 720 308.5 721.6 310 724 309.4 726 307.9 726 548 74 548 74 520.6 104 520.6 108 520 111.1 518 112.1 516 112.1 514 109.7 510 110 509.6 114 509.6 118 507.5 124.2 506 126 504.4 132 493.4 136 488.6 140 486.4 150 482.3 166 479 184 479.7 188 481.4 191.5 484 193.2 486 195.2 490 202.1 506 204.7 514 210.2 520 214 521.3 234 524.5 238 523.7 245 520 249.2 516 250.2 514 250 511.9 248 509.4 239.9 504 236 502.4 224 499.4 222.2 498 220.6 494 217.7 480 217.4 478 217.9 476 222 471.1 227.2 460 234 449.9 236 447.7 240 445.3 248 438.6 254 430.4 259.3 426 264 425 268 422.9 270.7 420 274 414.4 276 413.3 284 413.5 288 411.7 290 409.9 291.4 406 290.6 388 288 380.2 284.7 374 281.6 358 281.6 348 280.5 346 276 341 274 341 268 334.9 266 334.9 264 332.9 262 332.9 258 328.9 256 328.9 252 324.9 250 324.9 248 322.9 246 322.9 242 318.9 240 318.9 236 314.9 234 314.9 232 312.9 230 312.9 226 308.9 224 308.9 220 304.9 218 304.9 216 302.9 214 302.9 210 298.9 208 298.9 205.1 296 202 294.9 200 293.5 198 293.5 196 291.5 190 291.5 188 289.5 184 289.5 182 287.4 178 287.4 176 285.4 172 285.4 170 283.4 164 283.4 162 281.4 158 281.4 156 279.4 150 279.4 148 277.3 142 277.3 136 272.1 134 272.1 130 268.2 128 268.2 124 264.2 122 264.5 118 260.5 116 260.5 112 256.5 110 256.5 104 250.5 102 250.5 98 246.5 96 246.5 90 240.5 88 240.5 84 236.5 82 236.5 78 232.5 76 232.5 74 230.5 74 54ZM659.3 450 646 455.4 640 458.9 638 461.1 636.8 464 637 466 639.4 468 656 476.9 662 479.3 664 479.3 669.1 478 676 474.3 682 472.6 698 474.5 701.8 474 703.5 472 705.1 468 705.4 466 704 464 698 463.2 686 455.4 680 453.1 672 449.2 666 448.3 660 449.8Z"/>
<path fill="#ff6800" d="M76 54 258.6 54 272 67.4 274 67.4 286 79.4 288 79 290 81 292 81 296 85 298 85 300 87 302 87 306 91 308 91 310 93 312 93 314 95 316 95 320 99 322 99 324 101 326 101 330 105 332 105 334 107 336 107 340 111 342 111 344 113 346 113 348 115 350 115 354 119 356 119 358 121 360 121 364 125 366 125 370 129.1 372 129.1 374 131.1 376 131.1 380 135.1 382 135.1 386 139.1 388 139.1 390 141.1 392 140.9 394 142.9 398 142.9 400 144.9 402 144.9 404 146.9 408 146.9 410 148.9 414 148.9 416 150.9 434 150.4 436 152.4 440 152.4 441 152 446 147.1 448 147.1 454.5 140 455.2 120 458.3 102 460.3 82 460.5 54 651.8 54 649.8 56 649.4 60 647.5 62 647.5 68 645.7 70 645.7 78 643.9 80 643.9 86 642.9 88 642.9 164 643.8 166 647.6 168 650 168.3 656 167 670 169.5 690 170.5 706 170.4 712 171.5 716 172.8 718.9 176 722 178.1 724 178.6 726 178.1 726 263.7 724 261.2 722 260.7 720 261.6 717.7 264 716.9 266 716.7 272 716 273.9 707.5 284 703 294 704 298 707 302 715.7 306 720 311.4 722 312.2 724 312.1 726 311.1 726 548 74 548 74 522.9 106 522.8 114 521.1 116 518 117 512 118 510.8 120 509.8 126 509.2 127.9 508 132 502 138 496.3 146 492.8 150 491.8 160 492.1 172 490.5 180 490.9 184 492.2 186 493.6 188.1 496 198 516.5 205.6 526 208 527.6 218 527.7 230 529.6 234 529.7 248 524.7 256 520.2 257.2 518 257.3 516 255.7 506 254 504.2 252 503.2 246 501.3 240 497.9 228.9 494 226 492 224.5 488 222.9 480 223.2 476 224.9 472 228 462 234 451.5 236 449 240.9 446 248.5 440 250 438.5 253.9 432 257.1 430 258.3 428 262 426 266 425.4 270 422.4 274 416 276 415.2 284 415.1 290 412 292 408.4 292.4 406 292.1 394 292.7 388 290.8 380 287.5 374 286.2 370 284.2 358 283.7 350 282.9 348 276 340.3 274 340.3 268 334.2 266 334.2 264 332.2 262 332.2 258 328.2 256 328.2 252 324.2 250 324.2 248 322.2 246 322.2 242 318.2 240 318.2 236 314.2 234 314.2 232 312.2 230 312.2 226 308.2 224 308.2 220 304.2 218 304.2 216 302.2 214 302.2 210 298.2 208 298.2 205.8 296 200 293.1 198 293.1 196 291.1 190 291.1 188 289.1 184 289.1 182 287.1 178 287.1 176 285.1 172 285.1 170 283 164 283 162 281 158 281 156 279 150 279 148 276.8 142 276.8 140 274.7 138 274.1 136 272.1 134 272.1 130 268.1 128 268.1 124 264.2 122 264.3 118 260.4 116 260.4 112 256.4 110 256.4 104 250.4 102 250.4 98 246.4 96 246.4 90 240.4 88 240.4 84 236.4 82 236.4 78 232.4 76 232.4 74 230.4 74 54ZM658.9 438 648 443.4 636 452.2 632.5 456 625.3 468 624.6 470 624.6 474 633.4 500 636 503.2 640 505.8 660 513.7 666 513.5 688 509.3 692 508 708.8 496 712.3 492 718 476 720.4 466 721.9 452 721.6 448 720 442.5 718 440.8 716 440.4 696 437.7 672 438.1 664 436.6 660 437.5ZM450.3 466 440 470.2 428 494 426.8 498 428 500.4 430 502.2 432 503 446 502.6 450 503 453.9 506 467.5 520 470 520.8 472 520.3 474.2 518 482 506 490 492 491.8 488 492 484.7 490 482.2 485.1 478 473.6 470 470 468.7 464 468.3 462 467.7 458 464.2 456 464.3 452 465.5Z"/>
<path fill="#ff5800" d="M76 54 101.4 54 297.4 250 304 257.1 306 258.1 308.3 256 309.2 254 308.5 250 308.5 242 310 241.3 316 246.8 318 247.4 320 247 327.4 244 330.1 242 330.1 234 324.8 228 324.8 226 322.9 224 322.9 222 321 220 321 218 319 216 319 214 317 212 317 208 315 206 315 204 313 202 312.7 198 308.7 194 308.7 192 306.7 190 306.7 188 302.7 184 302.7 182 300.7 180 300.7 178 296.7 174 296.7 172 294.7 170 294.7 168 290.7 164 290.7 162 288.7 160 288.7 158 284.7 154 284.7 152 282.7 150 282.7 148 278.7 144 278.7 142 276.7 140 276.7 138 272.7 134 272.7 132 270.7 130 270.7 128 266.7 124 266.7 122 264.7 120 264.7 118 260.7 114 260.7 112 258.7 110 258.7 108 254.7 104 254.7 102 252.7 100 252.7 98 248.7 94 248.7 92 246.7 90 246.7 88 242.7 84 242.7 82 240.7 80 240.7 78 236.7 74 236.7 72 234.7 70 234.7 68 230.7 64 230.7 62 228.7 60 228.7 58 224.7 54 258.4 54 272 67.6 274 67.6 286 79.6 288 79.2 290 81.2 292 81.2 296 85.2 298 85.2 300 87.2 302 87.2 306 91.2 308 91.2 310 93.2 312 93.2 314 95.2 316 95.2 320 99.2 322 99.2 324 101.2 326 101.2 330 105.2 332 105.2 334 107.2 336 107.2 340 111.2 342 111.2 344 113.2 346 113.2 348 115.2 350 115.2 354 119.2 356 119.2 358 121.2 360 121.2 364 125.2 366 125.2 370 129.2 372 129.2 374 131.2 376 131.2 380 135.2 382 135.2 386 139.2 388 139.2 390 141.2 392 141 394 143 398 143 400 145 402 145 404 147 408 147 410 149 414 149 416 151 434 150.6 436 152.6 440 152.6 441.5 152 446 147.7 448 147.7 456.9 138 456 132 456.1 126 457.3 116 460.7 98 462.6 80 462.7 54 651.6 54 649.6 56 649 60 647 62 647 68 645.1 70 645.1 78 643.2 80 643.2 86 641.4 88 641.4 96 639.6 98 639.6 102 637.8 104 637.8 110 636.4 112 636.4 164 642.7 168 648 169.5 656 169.2 670 171.3 706 172.4 714 174.2 722 179.3 724 179.8 726 179.4 726 219.9 724 221.1 722 220.8 720.2 222 722 223.1 724 223 726 224.2 726 258.7 724 257.8 722 258.1 718 260.8 715.2 264 712.4 272 705.1 282 699 294 699.9 298 704 304.3 714 308.1 718 312 720 313.2 722 313.9 726 313.6 726 435.9 724 436.6 720.2 428 718 426.9 698 426.6 688 427.6 664 425 660 425.4 650 434.2 640 439.7 630 447.5 624 456.4 620 460.4 617.4 464 615 470 614.5 474 614.7 478 615.6 482 622 500 624.4 504 628 507.9 640 515.7 654 521.8 664 523.8 670 523.9 688 520.5 694 518.4 698.4 516 716 502.6 718 499.4 722 488 723.7 494 726 496.3 726 548 74 548 74 525 108 524.8 110 525.3 110.6 526 111.3 530 112 530.8 116 528.4 118 526 121.3 514 124 512.8 128 512.1 132 509.1 140 504.2 146 502 164 503 174 502.1 180 503.1 182 504.7 187.2 514 195.4 524 200 530.8 202 533.1 204 534.3 222 534 232 534.8 261 526 263.7 524 263.9 520 261.4 500 259.7 498 248 495.8 246 495 236 490.5 230 486.5 228.7 484 227.7 480 228.3 468 230 462 236 450.4 250 440.8 254 433.8 256 432.5 258.3 432 260 430.3 260.7 428 266 427 268 425.8 271.9 422 274 418 276 416.9 282 416.9 286 416 290 413.9 291.9 412 292.8 410 293.5 406 293.6 394 294.5 386 293.1 380 288.1 370 287.3 360 285.7 350 283.9 348 284 346.8 286 346.8 287.5 342 288.5 336 288.2 328 286 325.3 284 325.3 278 319.5 276 319.5 274 317.5 272 317.5 270 315.6 268 315.6 266 313.6 264 313.6 262 311.6 258 311.6 256 309.5 252 309.5 250 307.5 248 307.5 246 305.5 240 305.5 238 303.4 234 303.4 232 301.3 228 301.3 226 299.4 220 299.4 218 297.5 212 297.5 210 295.6 206 295.6 200 292.8 198 292.8 196 290.8 190 290.8 188 288.8 184 288.8 182 286.7 178 286.7 176 284.7 172 284.7 170 282.7 164 282.7 162 280.6 158 280.6 156 278.5 150 278.5 148 276.4 142 276.4 140 274.1 138 274 138 273.1 296 273.1 298.2 270 298 269.2 296 268.8 132 268.8 130 268 128 268 124 264.1 122 264.2 118 260.2 116 260.2 112 256.2 110 256.2 104 250.2 102 250.2 98 246.2 96 246.2 90 240.2 88 240.2 84 236.2 82 236.2 78 232.2 76 232.2 74 230.2 74 54ZM370 420 366 420.7 364 421.6 356 426.4 352 428.2 350 428 344 423.8 342 423 338 423.5 336 425.2 330 433.1 328 434 326 433.7 314 429.4 310 429.6 307.2 432 300 450 295.9 456 292.6 482 289.8 490 294 520 294.6 522 296 523.8 300 524.5 306 523.2 342 509.3 358 504.1 360 502.7 364.6 498 380 479 382 477.7 394 472.3 398 471.6 418 477.8 421.3 480 421.4 482 420.7 484 416.1 494 415.8 496 416.7 498 418.4 500 424 504.2 430 510 434 511.7 442 511.6 444 512 448 514.9 459.2 526 466 529.1 470 529.6 474 529.1 480 526.9 484 524 485.7 522 493.4 510 498.1 500 504.2 490 506.9 484 511.1 478 511.3 476 510.1 474 508 473.2 502 473.2 500 472.2 497.8 470 491.5 460 488 457.8 484 457.7 472 460.4 468 459.8 466 458 462.3 446 460 444.2 458 443.6 455.4 444 444 453.2 442 453.9 440 452.6 433.1 436 431.3 434 428 433 424 433.5 414 439.1 411.7 438 409.1 430 404.3 426 399.5 424 396 423.2 370 420Z"/>
<path fill="#ff4800" d="M76 54 100.5 54 300.3 254 301.4 256 301.1 262 296 265.9 126 265.9 124 264 122 264.1 118 260.1 116 260.1 112 256.1 110 256.1 104 250.1 102 250.1 98 246.1 96 246.1 90 240.1 88 240.1 84 236.1 82 236.1 78 232.1 76 232.1 74 230.1 74 54ZM226 54 258.1 54 272 67.9 274 67.9 286 79.9 288 79.4 290 81.4 292 81.4 296 85.4 298 85.4 300 87.4 302 87.4 306 91.4 308 91.4 310 93.4 312 93.4 314 95.4 316 95.4 320 99.4 322 99.4 324 101.4 326 101.4 330 105.4 332 105.4 334 107.4 336 107.4 340 111.4 342 111.4 344 113.4 346 113.4 348 115.4 350 115.4 354 119.4 356 119.4 358 121.4 360 121.4 364 125.4 366 125.4 370 129.4 372 129.4 374 131.4 376 131.4 380 135.4 382 135.4 386 139.4 388 139.4 390 141.4 392 141.2 394 143.2 398 143.2 400 145.2 402 145.2 404 147.2 408 147.2 410 149.2 414 149.2 416 151.2 434 150.8 436 152.8 440 152.8 444 151.7 458 151.7 459.8 148 459.9 140 457.3 132 457.1 128 458.9 116 462.6 98 464.7 82 465 54 651.5 54 649.5 56 648.5 58 648.5 60 646.5 62 646.5 68 644.5 70 644.5 78 642.6 80 642.6 86 640.7 88 640.7 96 638.8 98 638.8 102 636.9 104 636.9 110 635 112 635 116 633.1 118 633.1 124 631.3 126 631.3 128 629.5 130 629.5 134 627.8 136 627.2 140 627.2 164 637.6 168 648 170.7 656 171.2 668 172.9 706 174.5 714 176.5 722 180.8 724 181.4 726 181.2 726 216.8 722 216.2 720 217 717 220 716.6 222 717 224 718 225.3 721.2 228 721.5 230 720.5 234 720.6 236 722 240.3 724 241.6 725.3 240 725.9 236 725.2 232 724.2 230 724.6 228 726 227.4 726 254.6 724 254.8 720 256.7 716 260 712.5 264 695.8 292 694.9 296 698.9 304 702 307.3 712 310.4 720 315.3 726 316.2 726 418.3 722 417 720 416.9 714 418 700 418.8 686 417.7 672 415.4 662 411.6 660 411.4 658 412.6 652 424 649 428 646 430.2 634 435.1 628 439.1 625.1 442 620 448.8 614 454 610.8 458 608.5 462 605.6 470 604.7 476 605.2 484 606.7 490 611.7 502 617.5 510 622 514.1 636 523.5 648 529.5 656 531.9 668 533.8 678 533.8 688 531.7 696 528.7 704 524.4 720 512.2 722 510 724.3 502 725.1 500 726 499.5 726 548 116 548 112.9 548 113.3 544 114.2 542 122 534.4 123.5 532 127.9 518 129.8 516 132 514.9 144 512.1 176 514.4 190 527.8 198 539.8 200 541.1 202 541.3 230 540.2 238 537.3 248 534.9 266 531.5 269.8 530 270.8 528 270.7 524 267.5 496 266.3 492 264 491 252 490.5 248 489.8 238 485 234 481.5 232.3 478 231 470 231.1 466 234.3 456 236 452.6 238 450.5 251.3 442 254 437.2 256 434.9 262 433.1 265 430 270 426.9 272.8 424 276 419.3 284 418.8 288 417.5 292 415.2 293.2 414 295.1 408 294.9 400 295.3 394 296.5 388 296.2 384 294.4 378 289.8 368 290.3 360 289 350 291.4 336 291.4 332 289.3 328 286 324.1 284 324.1 278 318.8 276 318.8 274 316.9 272 316.9 270 314.9 268 314.9 266 312.9 264 312.9 262 310.9 258 310.9 256 308.9 252 308.9 250 306.8 248 306.8 246 304.7 240 304.7 238 302.4 234 302.4 232 300.2 228 300.2 226 298.4 220 298.4 218 296.8 212 296.8 210 294.9 206 294.9 204 294.5 202 292.9 198 292.5 196 290.4 190 290.4 188 288.4 184 288.4 182 286.4 178 286.4 176 284.3 172 284.3 170 282.3 164 282.3 162 280.3 158 280.3 156 278.1 150 278.1 150 276.7 296 276.7 298 275.6 304.2 264 314 253.1 316 251.6 328 246.7 332 244 333.6 242 333.6 238 334 237.4 336 238.2 338 238.3 340.4 236 340.3 226 314 199.4 313.5 198 309.5 194 309.5 192 307.5 190 307.5 188 303.5 184 303.5 182 301.5 180 301.5 178 297.5 174 297.5 172 295.5 170 295.5 168 291.5 164 291.5 162 289.5 160 289.5 158 285.5 154 285.5 152 283.5 150 283.5 148 279.5 144 279.5 142 277.5 140 277.5 138 273.5 134 273.5 132 271.5 130 271.5 128 267.5 124 267.5 122 265.5 120 265.5 118 261.5 114 261.5 112 259.5 110 259.5 108 255.5 104 255.5 102 253.5 100 253.5 98 249.5 94 249.5 92 247.5 90 247.5 88 243.5 84 243.5 82 241.5 80 241.5 78 237.5 74 237.5 72 235.5 70 235.5 68 231.5 64 231.5 62 229.5 60 229.5 58 225.5 54ZM613 394 612 394.3 610.3 396 610 398 611.6 408 612.9 412 615.7 414 618 414.7 624 415.7 628 415.6 629.3 414 629.2 412 627.8 406 627.1 398 626 396.6 622 394.8 614 393.8ZM586.6 396 582 398 581.5 400 583.6 410 586 413.4 588 414.5 590 414.9 594 414.4 598 413.2 599.9 412 600.5 410 598.5 398 597.8 396 596 394.6 594 394.5 588 395.7ZM559.5 402 556.7 404 555.1 406 554.2 410 555 414 556 416 558 417.1 562 416.7 566 415.3 567.9 414 568.4 412 566 402.7 564 401.2 560 401.7ZM357.4 416 354 417.5 352 417.7 346 416.3 336 417.4 332 418.7 328 421.8 326 422.5 318 421.5 308 423 306 424.2 300.3 430 296 437 290 441.2 285.3 446 284 450 283.5 454 285 464 283.7 474 281.8 480 276.8 488 276.7 490 281 526 282.4 530 286 534.6 288 536.2 290 536.4 310 533.5 316.7 532 334 525.7 338 525.2 344 525.5 346 525 348 523 352.1 516 360 511 380 489.3 384 486.4 394 484.7 403.6 488 405 490 404.9 494 405.9 496 409.7 500 414 503.6 420 507.2 430 517.4 434 519.9 439.5 522 452 532.2 462 536.7 466 537.4 476 537 486 533.8 492.8 530 498.4 524 504.7 514 512.6 496 516.7 484 517.5 480 516.1 474 512 469 510 467.6 504 465.7 500 463.7 498 462.4 494 457.9 488 454.3 484 453.1 478 453.1 474 451.8 471.5 450 467.1 444 464 441.8 458 439 454 437.8 450 437.4 447.4 438 444 439.7 442 439.6 440 437.7 437.8 434 435.4 432 430 430 418 427.3 404 421.5 396 418.8 372 414.7 364 414.5 358 415.8Z"/>
<path fill="#ff3800" d="M472 54 651.3 54 648 58 634 72 632 72 630 74 629.9 76 627.9 78 627.9 82 625.9 84 625.9 86 623.9 88 623.9 92 621.9 94 621.9 96 619.9 98 619.9 102 617.9 104 617.9 106 615.9 108 615.9 112 613.9 114 613.9 116 611.9 118 611.9 122 609.9 124 609.9 126 607.9 128 607.9 130 606.6 132 606.6 156 604 156.4 601.7 156 601.7 144 600 143.9 597.8 146 597.8 148 592 153.3 590 154.1 584 153.2 576.7 150 574 148 574 134 572 133.9 564 142 563.9 148 566.4 154 570 158.2 576.5 162 580 162.9 596 161.5 604 162.5 610 162.4 615 158 616 156.4 616.4 164 618.1 166 620 166.7 624 166.1 626 166.4 646 171.6 664 174.1 686 175.2 706 176.9 716.7 180 720.8 182 726 185.7 726 207.7 724 210.7 718 215 714.9 218 712 222 711.7 224 712.6 226 716.7 230 717.6 232 718.7 240 723.2 250 722.4 252 716 256.9 711 262 702 274 687.8 298 686.4 302 687.4 306 689.1 308 712 314.2 715.2 316 722 321.6 723.9 324 724.8 326 726 329.5 726 404.3 724 404.9 720 407.5 708 411.1 698 411.7 686 410 676 407.6 670 405.2 639.4 390 620 381.3 604 382.6 560 391.2 556 393 550 398 542 402.6 540.8 404 537.7 412 537.5 418 537.1 420 535.9 422 506 453.3 504 455 502 455.6 500 455.1 492 450.9 482 447.3 476 443.6 460 435.9 434 428 412.3 420 409.8 418 406 411.9 404 410.9 386 406 366 402.8 358 399 354 398.8 342 400.2 335.7 404 330 406.4 328 407.8 322.3 414 320 415.1 312 416.2 310 416.2 308 415.4 303.3 410 297.8 402 297.2 398 298.5 388 298.1 384 292.9 368 293.4 362 296.2 356 297.2 348 295.2 334 292 330 296 330 300 326.9 300.7 324 300 322.7 296 319.2 280 319.2 278 318.1 276 318.1 274 316.2 272 316.2 270 314.2 268 314.2 266 312.2 264 312.2 262 310.2 258 310.2 256 308.2 252 308.2 250 306.1 247.9 306 248 305.2 296 305.2 299 302 300 300.2 299.1 298 296 296.1 212 296 210 294.2 204 294.1 202 292.3 198 292.1 196 290.1 190 290.1 188 288.1 184 288.1 182 286 178 286 296 285.9 297.1 282 301.2 276 302.5 272 304 269.5 309.8 262 315.7 256 318 254.4 328 249.8 332 247.1 342 239.1 346 234.2 348 233.1 354 231.9 355.5 230 356 227.8 355 226 352.8 224 352.8 188 352.1 186 350.2 184 350.2 182 346.2 178 346.2 176 344.2 174 344.2 172 340.2 168 340.2 166 338.2 164 338.2 162 334.2 158 334.2 156 332.2 154 332.2 152 328.2 148 328.2 146 326.2 144 326.2 142 322.2 138 322.2 136 320.2 134 320.2 132 316.2 128 316.2 126 314.2 124 314.2 122 310.2 118 310.2 116 308.2 114 308.2 112 304.2 108 304.3 106 300.3 102 300.3 100 296.3 96 296.3 94 292.3 90 292.3 88 288.3 84 288.3 82 292 81.5 296 85.5 298 85.5 300 87.5 302 87.5 306 91.5 308 91.5 310 93.5 312 93.5 314 95.5 316 95.5 320 99.5 322 99.5 324 101.5 326 101.5 330 105.5 332 105.5 334 107.5 336 107.5 340 111.5 342 111.5 344 113.5 346 113.5 348 115.5 350 115.5 354 119.5 356 119.5 358 121.5 360 121.5 364 125.5 366 125.5 370 129.6 372 129.6 374 131.6 376 131.6 380 135.6 382 135.6 386 139.6 388 139.6 390 141.6 392 141.3 394 143.3 398 143.3 400 145.3 402 145.3 404 147.3 408 147.3 410 149.3 414 149.3 416 151.3 434 151 436 153 440 153 441.7 154 448 160.1 450 160.6 460 161 462 156.2 462.8 146 462.1 140 458.6 132 458.3 128 460.2 118 464.9 100 468 81 470.7 78 470.7 54ZM288 79.5 288.5 80 288 81.7 286.3 80ZM638 397.1 640 397 642 397.8 645 400 645.6 402 645 404 642 409.2 640 410.1 638 407.7 636.3 402 636.3 400 637.1 398ZM562 427.8 564 427.8 566 428.6 568 430.1 598 460.5 598.7 462 598.8 464 596.1 474 595.6 480 596.5 486 599.6 496 607.6 510 614 516.9 620 522.3 628 527.8 635.1 532 650 538.1 664 540.3 680 540.6 685.1 540 698.1 536 709 530 720 521.5 722 520.4 724 520.7 726 523 726 548 357.8 548 344 546.6 340 547.1 338.9 548 305 548 305.2 546 306 544.7 308 543.7 322.2 542 332 539.5 336.7 540 342 545 344 545.3 346 545 352 542.4 356.7 536 362.6 524 368 516.5 372 512 374 511.1 376 510.9 410 513.2 420 518.3 433.5 530 442 536.4 449.7 540 456 541.6 464 542.5 476 542.6 500.3 538 504 535.7 508 531.3 510.7 524 518.2 508 523.4 492 525.7 480 524.7 474 526.2 470 550 431.4 552 429.9 554 429.2 561.1 428ZM262 437.7 264 437.8 266 438.8 274.6 446 275.7 448 277.1 458 277.8 466 276.7 472 272.2 480 267.4 484 264 485.1 260 485.5 252 485.1 247.5 484 243.3 482 238 477.9 235.1 474 233.9 470 233.7 468 235.5 458 236 456 238 452.6 246 447.4 256 442.5 261.3 438ZM142 531.9 148 530.9 156 533.7 164 534.3 172 533.6 184 531.1 186 531.5 188 533 190 535.6 192.3 540 192 542.1 188 544 186.7 548 174.1 548 174 545.4 172.7 544 170 543.7 165.5 544 164 545.5 163.9 548 136.1 548 135.9 544 133.2 542 132.7 540 134.8 536 136.5 534 141.5 532ZM250 540 256.5 540 257.6 542 257 544 258 544.4 260.3 548 243.2 548 244 545.6 246.2 544 246.7 542 249.9 540Z"/>
<path fill="#ff2800" d="M500 54.2 651.1 54 648 57.7 634 71.7 632 71.7 624 79.9 622 79.9 618 83.9 616 83.9 612 87.9 610 87.9 604 93.9 602 93.9 596 99.9 593.9 100 593.6 102 591.6 104 591.6 106 589.6 108 589.6 110 587.6 112 587.6 114 583.5 118 583.5 120 575.2 128 575.2 130 561.1 144 559.6 146 559.3 148 561.2 156 564 161.2 568 164.1 576 167.5 586 167.3 596 165.8 606 166 612 165.6 614 165.9 620 168.3 626 168.2 646 172.9 662 175.4 704 179.3 716 182.8 720 184.9 724 187.9 726 188.3 726 203.9 724 205.3 721.9 208 716 212.9 710.8 218 707.5 222 706.6 224 706.6 226 708 229 710 231.6 714 234.6 714.9 236 719 248 719.1 250 697.8 272 695.4 276 690 287.3 682.4 298 681.2 302 682.3 308 686 312 688 313 704 315.8 708 317.3 710.9 320 712 324.2 715.4 328 722 333 726 333.1 726 398.1 724 388.1 723.3 394 722.5 396 720 399.2 708 404.4 700 405.3 692 405 678 402.3 672 400.2 658 393.1 636 380.7 626 374 624 372.9 622 372.5 600 375 560 383.1 554 385.1 544 392.4 523.7 400 522.1 402 522.1 404 525.2 418 524.9 420 524 422 504 443.2 500 446.3 498 446.3 492 443.8 486 443.3 479.4 440 462 432.9 434 423.4 416 415.4 414 414.1 412.8 412 410.4 402 408.3 400 388 394 378 393.2 375.1 392 373.5 390 368 373.7 366 373.8 352 384.2 340 389.8 336.5 392 329 398 321.7 408 320 409.8 318 410.8 312 411.3 310 410.4 302 400.4 300.7 396 300.8 388 296.4 370 296.1 366 296.5 362 298.9 356 300.2 348 298.6 334 299 332 302 328.4 302.9 326 302.8 324 302 322.1 298.5 318 298.2 316 298.4 308 301.8 300 301.4 298 298.5 294 298.4 292 300.7 282 305.3 272 311.7 264 317.4 258 322 255.2 330.1 252 342 243.1 348 237.8 350 236.7 354 235.6 356.6 234 361.7 226 361.2 224 361.2 204 360.1 202 360.1 200 358.4 198 358.4 196 356.5 194 356.5 192 354.6 190 354.6 188 350.8 184 350.8 182 346.8 178 346.8 176 344.8 174 344.8 172 340.8 168 340.8 166 338.8 164 338.8 162 334.8 158 334.8 156 332.8 154 332.8 152 328.8 148 328.8 146 326.8 144 326.8 142 322.8 138 322.8 136 320.8 134 320.8 132 316.8 128 316.8 126 314.8 124 314.8 122 310.8 118 310.8 116 308.8 114 308.8 112 304.8 108 304.9 106 300.9 102 300.9 100 296.9 96 296.9 94 292.9 90 292.9 88 288.9 84 288.9 82 292 81.7 296 85.7 298 85.7 300 87.7 302 87.7 306 91.7 308 91.7 310 93.7 312 93.7 314 95.7 316 95.7 320 99.7 322 99.7 324 101.7 326 101.7 330 105.7 332 105.7 334 107.7 336 107.7 340 111.7 342 111.7 344 113.7 346 113.7 348 115.7 350 115.7 354 119.7 356 119.7 358 121.7 360 121.7 364 125.7 366 125.7 370 129.7 372 129.7 374 131.7 376 131.7 380 135.7 382 135.7 386 139.7 388 139.7 390 141.7 392 141.5 394 143.5 398 143.5 400 145.5 402 145.5 404 147.5 408 147.5 410 149.5 414 149.5 416 151.5 434 151.2 436 153.2 440 153.2 441.4 154 448 160.5 452 163.6 458 163.6 460 164.5 462 164.6 464.4 154 464.9 146 463.2 138 459.8 132 459.5 128 462.2 118 465.8 110 467.8 104 471.7 84 472.8 82 474 81.2 476 80.6 482 80.6 484 80.1 486 78.3 486.3 76 492.2 70 492.2 68 494.2 66 494.2 64 496.2 62 496.2 60 498.2 58 498.2 56ZM527.5 274 520 276.2 504 282.6 500 282.2 490 277.3 486 276.1 483.9 278 484 292 486 293.4 488 293.8 498 293.7 512 302.5 518 305 520 304.5 522 302.5 529.1 292 532 289.2 536 288.9 556 291.8 558 291.8 560.2 290 554 284 550 280.9 538 274 534 273 528 273.9ZM288 79.7 288 81.1 286.9 80ZM264 442 268 444.2 272 448.1 273.8 456 274.1 464 273.6 468 272.7 470 268.8 476 266 478.6 262 480.2 254 480.3 248 478.5 240 473.6 238.5 472 237.4 470 236.9 466 237.9 456 240 453 244 450.4 250 447.9 256.6 446 262 442.4 263.9 442ZM562 444 566 444 570 446.5 589.3 466 590.2 468 590.2 470 588.5 478 588.6 482 592.3 494 594.9 500 602.2 512 612 523.1 621.7 532 628 535.8 650 543.5 660 544.9 661.2 546 660.3 548 505.9 548 505.5 546 506 545.2 514 542.7 516 540.5 517.6 528 525.4 512 531.3 498 534 488 537 482 537.1 476 537.7 474 554 447.3 556 445.4 562 444ZM380 527.6 410 527.5 416 528.6 420 530.8 431.4 540 441.1 544 437.6 548 366.4 548 368 545.7 375.9 544 377.8 542 373.3 538 372.8 536 374.4 532 376 529.7 378.2 528ZM720 527.9 722 526.6 726 526.3 726 548 680.9 548 679.4 546 681.6 544 690 542.7 704 538.3 710 535.1 719.9 528ZM478 547.6 486 546.6 488 547.3 488.1 548 476.4 548Z"/>
<path fill="#ff1800" d="M500 54.5 500.5 54 650.9 54 634 71.4 632 71.4 624 79.6 622 79.6 618 83.6 616 83.6 612 87.6 610 87.6 604 93.6 602 93.6 596 99.6 594 99.6 590.2 104 590.2 106 588.2 108 588.2 110 586.2 112 586.2 114 582.2 118 582.2 120 574.2 128 574 130.2 572 131.7 556 131.7 554 133 553.9 136 554.9 140 554.2 146 555.6 152 556 158 558 163.4 560.2 166 566 169.7 572 171.9 576 172.2 588 171.4 598 169.4 614 168.1 620 169.5 626 169.7 648 174.6 662 177 704 182.1 716 186.4 722 190.5 724 191.1 726 190.3 726 202 724 201.9 722 203.3 712.7 212 705.1 220 702.4 224 701.8 226 702 228 706 235.2 708 237.4 712 239.9 713.5 242 715.5 248 714.9 250 706 259.3 695.2 268 693.3 270 691.1 274 686.3 286 678.5 296 676.9 300 676.1 304 676.4 308 677.6 310 684 316.3 686 317.4 692 317.6 700 319.1 704 321.1 705.3 324 706 330 707.1 332 718 341.6 720 343.8 721.1 346 722.3 352 721.2 368 718.7 388 717.4 392 715 394 712 395.5 704 398.5 692 399 680 397.1 674 395.3 658 386.6 642.2 376 628 364.7 624 363.9 598 367.1 554 376.7 548 380 540 385.6 524 391.7 520 394 515.4 398 511.9 404 511.1 408 512.9 418 512.6 420 510.5 424 498 436.8 496 437.4 492 436.8 488 437.9 476 434.7 436 419.3 418 409.9 416 408 414.2 402 412.9 400 410 397.9 396 393.2 390 390.2 382 388.7 380 387.7 377.5 384 375.1 374 375.8 370 379.1 362 380.1 358 379.4 356 378 355.4 376 355.8 374 357.1 366 364.4 359 372 347.5 382 333.4 390 328 394.1 318 405.7 316 406.5 314 406.5 312 405.6 306 398.2 304 392.5 300.1 376 299.3 366 299.4 362 301.2 356 302.7 348 301.3 334 304.6 328 304.9 326 304.1 322 300.8 318 300.4 316 301.1 308 303.6 300 303.3 298 301.4 294 301.4 292 303.5 282 307 274 318.9 260 324 256.8 330 255.1 334 253.2 350 240.7 356 238 358 236.6 362 230.3 367.1 226 367.7 224 367.7 214 364.9 210 364.9 208 363.1 206 363.1 204 361.2 202 361.2 200 359.3 198 359.3 196 357.3 194 357.2 192 355.3 190 355.3 188 351.3 184 351.3 182 347.4 178 347.4 176 345.4 174 345.4 172 341.4 168 341.4 166 339.4 164 339.4 162 335.4 158 335.4 156 333.4 154 333.4 152 329.4 148 329.4 146 327.4 144 327.4 142 323.4 138 323.4 136 321.4 134 321.4 132 317.4 128 317.4 126 315.4 124 315.4 122 311.4 118 311.4 116 309.4 114 309.4 112 305.4 108 305.6 106 301.6 102 301.6 100 297.6 96 297.6 94 293.6 90 293.6 88 289.6 84 289.6 82 292 81.9 296 85.9 298 85.9 300 87.9 302 87.9 306 91.9 308 91.9 310 93.9 312 93.9 314 95.9 316 95.9 320 99.9 322 99.9 324 101.9 326 101.9 330 105.9 332 105.9 334 107.9 336 107.9 340 111.9 342 111.9 344 113.9 346 113.9 348 115.9 350 115.9 354 119.9 356 119.9 358 121.9 360 121.9 364 125.9 366 125.9 370 129.9 372 129.9 374 131.9 376 131.9 380 135.9 382 135.9 386 139.9 388 139.9 390 141.9 392 141.6 394 143.6 398 143.6 400 145.6 402 145.6 404 147.6 408 147.6 410 149.6 414 149.6 416 151.6 434 151.4 436 153.4 440 153.5 450 162.8 454 165.8 458 165.8 464 168.7 465.9 168 465.8 166 464.6 164 464.3 162 466.4 152 466.9 146 465 138 461.3 132 460.6 130 461 128 464.6 118 468.8 112 471.4 106 474 92 476 86.6 478 86.2 486 78.7 486.7 78 486.7 76 492.5 70 492.5 68 494.5 66 494.5 64 496.5 62 496.5 60 498.5 58 498.5 56ZM531.2 254 514 261.7 510 262.6 507.5 262 496 256.3 490 254.8 482 255.1 476 257.2 471 262 468 267.6 461.2 294 462.6 300 464 302.5 466 304 476 305.6 488 303.9 492 304 496 305.9 507.4 314 510 315.3 514 316.2 520 316.3 525 314 527.7 312 534 302 536 300.3 540 299.6 554 301.5 570 299.1 597.5 288 600.2 286 600.1 284 598 281.8 566 272.2 564 271.2 553.1 260 550 257.6 536 253.7 532 253.7ZM288 79.9 288 80.4 287.6 80ZM726 363.4 726 378.1 725 376 724.6 370 724.9 366 725.8 364ZM260 447.9 264 446 266 446.4 268 447.8 269.7 450 271.1 456 270.1 466 265.4 472 262 474.5 258 475.5 252 474.6 242 469.3 239.9 466 239.4 458 239.9 456 241.4 454 246 451.5 259.8 448ZM564 459.8 568 460.1 570 461.2 580.9 472 581.8 474 581.5 482 583.9 490 589.5 502 599.8 518 612 531.8 618 537.8 622 540 633.8 544 635.5 546 634 546.9 633.4 548 523.5 548 523.3 544 524 534 525.3 530 538.5 504 543.2 492 548.1 484 550.3 476 558 463.3 560 461.1 562.8 460ZM724 529.5 726 528.1 726 548 696.4 548 696.2 546 700 544 708 541.3 712 539.4 722 532.3 723.5 530ZM410 543.8 414 542.8 418 542.8 424 545.3 432 547.1 434 548 399.1 548 400 547.2 409.6 544Z"/>
<path fill="#ff0800" d="M500 54.7 500.7 54 650.8 54 634 71.2 632 71.2 624 79.3 622 79.3 618 83.3 616 83.3 612 87.3 610 87.3 604 93.3 602 93.3 596 99.3 594 99.3 592 101.7 586 101.7 584 103.7 578 103.7 576 105.7 572 105.7 570 107.7 568.7 108 552.6 124 549.2 128 548.7 130 549.9 138 549.1 144 551 152 550.7 160 552.5 166 553.5 168 555.5 170 562 174.3 568 176.4 572 176.8 588 175.9 604 171.8 614 170.3 626 171.4 662 178.8 702 184.8 711.4 188 718 191.9 720.2 194 721 196 720.9 198 720 200 702 219 698.3 224 697 228 698.3 232 702.8 240 706 243.2 710 245.3 711.2 248 710.1 250 704 256.6 692 264.3 688.6 268 686.6 272 683.4 282 674.2 294 671.3 302 670.4 306 670.4 308 671.1 310 682 320.9 684 322.1 686 322.6 692.1 322 696 322.8 698.4 324 699.2 326 700 336.3 700.8 338 707.9 346 710.4 352 714 357.6 714.7 360 714.4 368 711.4 384 709.2 388 704 391.5 698 392.6 688 392.6 676 390.2 664 383.6 653.4 376 648.4 372 634 358.3 630 355.5 626 355.3 596 359.1 560 366.8 552 369.1 546 372.2 537.4 378 526 383.4 522 385.9 512 393.2 506 402 503.6 406 501.2 412 500.3 420 496.8 426 494 428.5 488 431.7 486 432 476 430.2 459.4 424 439.9 416 426.2 408 423.5 406 423.2 404 425.1 402 425.9 400 426 398 423.8 394 422 391.9 420 390.9 418 391.9 414 396.2 412 396 396.7 390 392 386.9 386.2 384 384 382 382 378.9 381.3 374 382 370 386.9 354 386.9 352 386 350.3 384 349.3 376 348.8 372.3 350 370 351.8 362 359.7 353.3 370 345 378 336 384.9 326 390.6 318 399.6 316 400.8 314 400.4 310 395.6 308 391.9 304 381.5 303.2 376 303 364 303.2 360 305.6 348 305.5 342 304.5 336 304.8 334 307.4 328 307.5 326 307.1 322 303.9 318 303.3 316 303.4 314 305.8 300 304.7 294 304.8 292 306.2 284 308 278.6 310 275.1 321.2 262 326 259 332 257.7 336 255.9 351.6 244 358.7 240 360.8 238 364.4 232 372.5 226 373.6 224 374 219.2 378 219.1 380.5 216 380.2 208 378 205.2 376 205.2 370 198.7 368 198.7 366 196.7 364 196.7 360 192.7 358 192.7 357.9 192 355.9 190 355.9 188 351.9 184 351.9 182 347.9 178 347.9 176 345.9 174 345.9 172 341.9 168 341.9 166 339.9 164 339.9 162 335.9 158 335.9 156 333.9 154 333.9 152 329.9 148 329.9 146 327.9 144 327.9 142 323.9 138 323.9 136 321.9 134 321.9 132 317.9 128 317.9 126 315.9 124 315.9 122 311.9 118 311.9 116 309.9 114 310 111.6 388.4 190 390 191.2 392 191.7 398 191.7 400.3 190 400.1 166 398.3 164 398.3 162 396.3 160 396.3 156 394.3 154 394.3 152 392.3 150 392.3 146 390.3 144 390.3 142 392 141.7 394 143.7 398 143.7 400 145.7 402 145.7 404 147.7 408 147.7 410 149.7 414 149.7 416 151.8 434 151.6 436 153.6 440 153.7 452 165 456 168 458 168 464 171.1 466 171.3 468 169.7 469 168 469.3 166 466.7 162 469 150 469.2 146 467.2 138 462.7 130 466.2 120 472.9 112 475.6 106 477.1 96 479.7 86 487 78 487 76 492.8 70 492.8 68 494.8 66 494.8 64 496.8 62 496.8 60 498.7 58 498.7 56ZM492.3 238 484 239 474 241.9 468 245.8 464 249.8 460 255 456 262.1 448.1 286 448.3 290 454.9 306 456 308 458 309.6 480 313.7 486 314.1 490 315.8 496 320 500 322.1 518 323.7 522 323.1 524 322.1 534 316.8 540 311.7 544 310.4 552 310 566 306.6 576 306.7 584 304.3 588 304.6 598 307.8 600 307.3 604 302.9 612.1 292 613.2 290 613.1 288 608.4 274 606 269 602 264.7 596 261.2 580 256.5 570 254.5 562.4 250 546 247.4 530 241.6 524 241 518 242.5 502 238.3 494 237.9ZM570.7 316 569.3 318 569.3 320 574.8 350 576.5 352 586 354.6 590 354.7 596 353.6 598.7 352 599.9 350 600.4 348 599.2 338 601 330 600.6 326 599.8 324 597.8 322 594 319.7 586 316.7 578 315.2 572 315.5ZM306 107.6 306.4 108 305.9 108ZM308 109.6 308.4 110 307.9 110ZM258 451.8 264 450.4 266 451.1 267.9 456 267.1 462 266 464.6 262 468.2 258 470 254 469.6 246 466 243.5 464 242.1 460 242 458 243 456 245.8 454 256.8 452ZM566 475.8 568 475.6 570 476.1 572.4 478 573.5 480 576.7 490 582.6 502 594.5 520 610.6 540 614 542.7 626 546.1 628 546.9 628.9 548 527 548 532 534.1 546 508.7 552 496.3 559 486 563.1 478 565.6 476ZM726 533.2 726 548 704.6 548 706.7 546 712 544.3 716 542.3 724 536.8 725.7 534Z"/>
<path fill="#f70000" d="M500 55 501 54 650.6 54 634 70.9 632 70.9 624 79 622 79 618 83 616 83 612 87 610 87 604 93 602 93 596 99 594 99 592 101.3 586 101.3 584 103.3 578 103.3 576 105.3 572 105.3 570 107.3 568 107.7 550 107.5 541.8 116 541.2 118 541.3 122 542.6 132 543.1 144 546.1 148 547.3 152 546.8 156 544.6 162 544.6 166 545.6 170 548 174.2 556.4 180 560 184.8 564 184.9 574 182.8 590 181.6 598 179 606 174.9 614 173.1 618 172.9 629.6 174 662 181.2 698 187.4 705.9 190 709.1 192 710.2 194 710.5 196 710.5 202 709.6 206 695.5 222 688.8 232 683.7 238 682.2 242 679.8 256 678.7 260 671.7 268 665.3 282 662 284.2 642 291.1 638 290.9 628 287.5 624 285.2 621 282 617.7 276 614.7 266 612.8 262 609.3 258 604 253.5 596 249.6 584 246.1 570 242.9 550 239.8 546.8 238 540 231.6 526 223.7 522 223.5 516 225.2 500 228.4 486 230.1 472 233.9 466 237.6 460 239.8 458 241.6 445 258 439.6 272 436 278.5 429.6 284 424 287.2 418 289.9 416 291.4 412.5 296 411.6 298 411.9 300 415.7 304 416.7 306 416.2 308 386.7 338 384 339.3 376 339.8 367.8 344 355.2 356 344 368.8 340 372 338 372.4 336 372.2 330 370.4 328 369.2 324.7 366 316 363 312 359.5 310.8 356 311.3 344 310.8 332 311.3 330 313.8 326 314.1 324 313.7 320 312.2 314 312.6 306 310.2 300 310 288 310.7 284 317.1 274 324 266.3 330 262.9 338 259.5 354 248.5 366 243.3 368 242 372 237.4 382 229.2 384 226.7 388 218 394.2 208 395.2 204 395.3 196 396 195.5 398 195.5 400 194.4 404.6 190 404.3 174 402.9 172 402.9 170 401.1 168 401.1 166 399.3 164 399.3 162 397.3 160 397.3 156 395.3 154 395.3 152 393.3 150 393.3 146 391.3 144 391.3 142 392 141.9 394 143.9 398 143.9 400 145.9 402 145.9 404 147.9 408 147.9 410 149.9 414 149.9 416 151.9 434 151.8 436 153.8 440 153.9 456 169.3 464 173.3 466 173.8 468 173.2 473.3 166 474 162 473.5 152 472.3 144 468.2 134 467.1 130 468 122.7 469.4 120 474.2 116 476 113.4 478.7 106 480 96 482.7 88 482.7 84 483.7 82 487.4 78 487.4 76 493.1 70 493.1 68 495.1 66 495.1 64 497 62 497 60 499 58 499 56ZM440 317.1 444 316.5 464 318.5 476 320.3 482 322.7 486 325 496 336.3 498 337.2 510 336.2 512 336.5 513.7 338 514.6 342 518.3 372 517.8 376 515.9 378 507.7 384 506 385.9 501.8 394 494.8 404 492 406.8 488 409.1 470 418.4 468 419 464 418.5 454 414.4 444 411.4 432 404.4 430.5 402 430.2 396 426.3 390 422 384.7 420 383.6 418 384.5 414 387.4 412 387.5 404.2 384 401.8 382 400.5 380 396.8 372 395.9 368 396.6 364 398.7 358 399.4 348 400.5 346 426 319.9 428 319.1 436 319 438.2 318ZM654 335.5 658 334.7 664 336.4 676 338.3 682 342 688 346.6 692.2 354 695.4 358 700 365.2 701.3 370 701.8 376 700.8 380 698 383.3 694 385.1 688 385.7 680 384.4 666 377.9 650 365.3 640.5 356 638.9 354 637.1 350 636.5 346 637.2 342 638 340.8 640 339.6 652.2 336ZM252 457.3 256 456.9 258 457.9 260.6 462 260 462.9 258 463.9 256 464.2 252 463.1 250.3 462 249.7 460 250.9 458ZM564 493.5 566 492.5 568 493.1 568.8 494 580.6 512 589.3 524 606.3 544 607.3 546 606.6 548 532.1 548 539.3 534 551.8 514 560.4 498 563.5 494ZM724 543.4 726 543.3 726 548 719.3 548 719.7 546 722.2 544Z"/>
<path fill="#e70000" d="M500 55.3 501.2 54 650.4 54 634 70.6 632 70.6 624 78.7 622 78.7 618 82.7 616 82.7 612 86.7 610 86.7 604 92.7 602 92.7 596 98.7 594 98.7 592 100.9 586 100.9 584 102.9 578 102.9 576 104.9 572 104.9 570 106.9 552 107.2 550 106.6 536.4 120 536.3 122 538.3 144 539.4 146 543.9 150 544.3 152 543.9 154 540.6 160 539.7 164 541.2 178 544.4 186 542.4 196 543 198 544 198.5 548 198.3 568 193.6 578 190 592 188.5 602 184.6 604 183.2 606.5 180 609.2 178 614 176.7 618 176.4 630 176.8 666 185.4 696 190.7 703 194 705.5 196 706.2 198 706.4 202 705.3 206 684 229 680.4 232 676.6 234 674.6 236 672.1 248 671.2 250 670 251.4 656 262.4 654 264.8 650 272.4 646 274.7 636 277.7 632 276.8 628 275.2 626 273.7 624 271 620.5 262 619.1 260 606 248.2 598 244.5 572 236.2 558 233.7 554 230.9 536 212.3 534 211.1 530 210.8 506 219.6 497.6 224 474 229.2 464 233.4 458 233.3 455.2 234 448.1 240 434.5 256 431.8 260 428.3 268 426.6 270 420 274.3 416 278.4 405 296 402.3 304 375.9 330 360 339.8 344 355.7 340 359 336 359.2 322 357.3 318 355.9 316.3 354 315.8 352 315.7 340 315 332 317.3 326 317.3 320 316.4 314 317.2 306 314.7 298 314.6 288 315.5 284 321.5 274 326 269.9 340 263.1 346 259 356 255 377.3 248 380.7 246 386 241.3 389 236 395.8 218 401.4 208 402.3 198 408.8 190 408.8 182 410 180.8 411.2 182 414 183 418 183 419.4 182 419.4 162 420 161.4 420.6 162 420.6 164 422 164.6 432 173.6 438 173.6 444 174.8 452 173.6 458 175.1 468 176.3 470 174.9 476.3 168 477.3 166 478 162 477.8 152 475.1 140 472 136 470.3 132 469.9 128 470.5 124 472 121.4 476.7 118 478.2 116 481 106 482.4 96 485.8 88 486 80 487.8 78 487.8 76 493.4 70 493.4 68 495.4 66 495.4 64 497.3 62 497.3 60 499.3 58 499.3 56ZM444 326 456 327 468 327.2 474 328.3 478 330 488.8 340 490.2 342 492 347.2 494 350.6 500 351.6 501.8 354 503.5 366 503.2 370 498 375.7 496.1 384 494.1 388 485.1 400 480 403.2 468 408.9 464 408.4 456 405.5 444 403.6 438 400.7 436 398.5 432.9 392 424 379.8 420 375.9 416 374.6 414.2 372 415 352 416 348 426 337.3 428 335.8 434 333.8 442 326.6 443.9 326ZM648 347.7 654 346.8 664 352.3 670 353.9 672 354.9 674 356.5 678.5 362 687.1 370 688.4 372 689 374 688 376.4 686 377.2 682 376.6 668 371.6 664 369.5 650 359.2 646.9 356 644.8 352 645.1 350 647.4 348ZM564 507.2 566 506.8 568 508.5 588 533.8 597.4 544 598.6 546 598.9 548 540.9 548 540 544 542 539.8 544.3 536 550.5 528 563.4 508Z"/>
<path fill="#d70000" d="M500 55.5 501.5 54 650.2 54 634 70.4 632 70.4 624 78.4 622 78.4 618 82.4 616 82.4 612 86.4 610 86.4 604 92.4 602 92.4 596 98.4 594 98.4 592 100.5 586 100.5 584 102.5 578 102.5 576 104.5 572 104.5 570 106.5 568 106.7 552 106.7 550.4 106 548 103.8 546 103.1 536 103.1 533.9 104 532 108 531.2 114 532.4 136 533.6 144 534.5 146 538.3 150 539.2 152 538.9 154 536.1 160 535.1 164 534.9 168 535.7 178 535.2 182 532.9 188 530 198 528.7 200 526 202 514 207 502 213.4 496 218.7 492 220.8 472 226 466 228.2 452 227.5 446 230 443.5 232 426 252.1 422 255.9 420 257.1 418 257.1 416 256.2 398 246.1 396 244 396.2 240 397.9 234 403.7 218 408.4 208 408.2 198 409 196 413.3 190 413.3 186 414 185.7 416 186.5 418 186.6 422 184.3 424.4 182 424.4 170 426 169.7 436 177.9 448 177.6 456 179.8 460 180.1 468 179.3 470 178.6 476 173.8 479.2 170 481.7 164 481.9 152 479.2 140 478 138 474 134.4 472.9 132 472.4 130 472.7 126 474 123.6 479.3 120 480.8 118 482 113.8 484.1 98 486 93.7 489.5 88 489.5 76 490 74 493.7 70 493.7 68 495.7 66 495.7 64 497.6 62 497.6 60 499.5 58 499.5 56ZM622 179.9 628 179.6 632 180.1 666 189 694 194.2 700.2 198 701.9 200 702.3 202 702.1 204 701 206 694 213.9 678 226.4 666.8 232 663.8 240 640 258 634 263.3 632 263.9 630 263.3 625.1 258 606 241.7 582 233.4 574 229.5 567.4 228 564 226.4 552.4 214 550 210 550.9 208 555.9 206 574 201.5 582 197.6 590 196.3 600 193.2 606 189.9 608 187.9 612 181.7 616 180.3 620.5 180ZM380 255.8 382.7 256 384 257.4 384.5 260 385.3 298 384.2 302 369.9 316 368.6 318 366.2 326 364 328 354.4 334 342 345.9 340 347 332 348.5 324 349 322 348.4 320.5 344 319.2 332 320.3 326 320.4 314 321.5 306 319.2 296 319.1 288 322 278.9 324 276.2 328 273.5 336 270.2 346 264.6 352 264 378.8 256ZM446 335.4 454 336 468 335.5 472 336.4 484 346.3 486.7 350 489.7 364 487.2 380 485.1 384 477.2 394 472 397.2 468 398.8 466 398.9 460 397.2 444 395 440 393.4 426.7 376 424.7 372 424.9 368 430 350.9 440 339.7 444.1 336ZM566 519.8 568 521.1 572 525.4 584 540.3 590 546 590.7 548 543.8 548 544.4 546 548 540.3 556 530.6 562 522.1 564 520.1 564.9 520Z"/>
<path fill="#c70000" d="M500 55.8 501.8 54 650.1 54 634 70.1 632 70.1 624 78.1 622 78.1 618 82.1 616 82.1 612 86.1 610 86.1 604 92.1 602 92.1 596 98.1 594 98.1 592 100.1 586 100.1 584 102.1 578 102.1 576 104.1 572 104.1 570 106.1 552 106.2 538 93.4 534 93.5 530 96.4 528.8 98 527.3 102 526.5 108 526.4 114 527.6 138 528.6 144 531.4 152 531.8 156 528.7 176 527.2 180 523 188 520.1 192 497.8 208 490.8 216 487.1 218 480 220.4 466 223.2 450 221.6 442 221.7 440 222.6 436 225.9 432 227.3 426 226.7 422 225.5 414 221.5 412.9 220 413 216 415.6 208 414.7 198 415.2 196 420.1 190 426 186 433.5 182 433.5 178 434.1 178 438 181.8 446 181.9 454 184.7 462 185 470 182.5 474 180.3 479.2 176 482 172.3 485.3 164 486.3 156 486.3 152 482.5 138 476 132.8 474.9 130 475 128 476 125.8 482 122 483.5 120 484.8 114 486 99.8 490.1 92 492 89.8 494.7 88 494.7 68 495.9 66 495.9 64 497.9 62 497.9 60 499.8 58 499.8 56ZM622 183.9 630 183.2 634.6 184 664 192.3 691.4 198 694 199.4 696.7 202 697 204 696.1 206 694 208.5 690 212 681.6 218 672 222.8 659.4 228 642 238.9 632 241.4 620 242 616 241 606 235.3 596 232.4 584.8 228 574 221.2 572.4 220 571.1 218 570.8 216 571.5 214 573.5 212 580 209.1 588 204.4 602 199.8 606 197.8 610.7 194 616 185.4 621.1 184ZM342 272 346 270.8 350 272 356 272 358 273.4 360.8 280 361.7 284 362.6 300 362.3 302 358.7 308 358.1 310 356 322 354.6 324 349 328 342 334.3 338 335.4 332 335.4 328 336.4 326 336 324.1 332 323.8 330 324 320 326.2 308 323.9 294 324 288 325.2 282 326.1 280 328 278.8 338 275 342 272ZM446 345.6 448 344.9 460 345.2 468 346.6 472 348 476 350.4 482.1 356 483 360 482.3 362 479.8 366 479.5 372 478.4 376 470.9 386 468.9 388 466 388.9 464 388.7 440.7 384 436 380.1 432 374.4 431.2 372 431.2 368 434 360 438 353.7 445.4 346ZM564 531 566 530.8 570 534.6 577.4 544 578.2 546 577.9 548 552.1 548 552 546 552.8 544 563 532Z"/>
<path fill="#b70000" d="M504 54 518.4 54 518.4 88 521.8 92 522.3 94 522.2 96 520.3 102 520.3 104 522.3 112 522.3 120 523.7 126 523.7 134 523 142 524.9 168 524 174 522.8 178 518.6 186 502 200.9 493.9 206 488 211.6 484 214.6 478 216.7 468 218.4 456 217.2 450 215.9 442 211.5 436 209.1 433.1 206 432.5 204 432.8 202 435 198 438 196.2 448 196.3 458.1 192 466 190 470 188.4 478 184 482.4 180 485.3 176 486 170 491 154 489.1 144 484.7 130 487.9 114 488.3 102 489.5 98 493.4 92 496.3 90 502.8 88 502.8 54ZM480 126.9 482 127.1 483.2 128 483.6 130 482.9 132 480 132.4 479.3 132 477.8 130 478.4 128ZM624 189.3 628 188.2 632 188.4 648 192.5 656 196.6 666 196.9 674 198.5 676.7 200 677.7 202 679.1 208 678.7 212 676.4 214 668 217.7 660 222.1 650 225.5 644 226.8 630 225.1 626 225.2 612 226 606 228.3 604 228.4 598 227 590.9 224 589.2 222 588.7 218 589.1 212 590.5 210 594 208 604 204 614 197 618 192.1 622.2 190ZM340 293.4 344 293.5 346 294.2 348.2 296 349 300 348 302.7 346 304.4 344 305 342 304.8 340 303.9 338.1 302 337 298 337.4 296 339 294ZM342 319.4 343.9 320 342 322.1 341 322 341 320ZM460 355.8 464 355.4 466 356.2 469.4 360 471.1 364 470.8 366 469.7 368 462 375.7 460 376.3 458 376.1 450 374.6 448 373.7 445.3 370 445.5 366 448 361.7 450 359.9 456 357.8 459.5 356ZM562 544 564 542.5 566 542.5 570 545.7 571.5 548 558.5 548 560 545.7 562 544Z"/>
<path fill="#a70000" d="M506 89.8 510 89.4 514 90 517.3 92 518.7 94 518.8 96 517.5 104 519 112 518.2 120 518.4 122 520.6 126 521.1 130 520.7 134 519 140 520.7 166 520.7 172 520 176 516.6 184 500 200.1 491.2 204 482 210.6 472 213.3 466 213.5 458.7 212 452.4 208 451.1 206 452.2 204 455.2 202 462.9 198 472 194.4 480 190 486 184.9 489.5 180 490.7 176 489.1 170 489.3 168 491.7 160 494.7 156 495.3 154 493 148 494 143.3 493.6 142 490.6 138 489.1 132 489.1 126 491.5 112 491.4 102 492.6 98 496 93 500 90.8 504.6 90ZM624 193.9 628.7 194 644 197.4 648 199.8 652 203.8 654 204.6 656 204.5 666 202 670 202.5 672 203.6 673 206 672 208.4 657.1 218 650 220.7 646 221 640 217.8 628 214.5 624 214 618 214.2 614 215.2 606 220.1 602 221.5 598 220.7 596 219.6 594.8 218 594.4 216 594.8 214 596 212.4 606 206.6 616 199.1 620 195.4 623.6 194Z"/>
<path fill="#970000" d="M500 93.5 504 92.7 510 92.4 514 93.8 515.4 96 515.1 106 515.7 112 514.2 122 514.7 124 518 127.8 518.4 130 518.2 132 515.4 138 515.2 140 516.7 156 517.2 172 515.6 180 513.2 184 500 197.8 498 199.1 495.9 200 490 200.8 481.2 206 478 207.2 470.5 208 468.9 206 474 200.7 484 194.6 488 191.4 492.3 186 495.9 178 495.9 176 495.2 174 492.3 168 492.4 166 494 161.6 499.3 156 499.4 154 496.6 150 496.2 148 499.1 144 499.4 142 494 136 492.8 134 492.1 132 491.9 128 495 112 494.6 102 495 100 496 97.9 499.1 94ZM622 200.6 624 200 636 201.8 642 203.8 649 212 650 214 647.9 214 640 208.9 620.6 202Z"/>
<path fill="#870000" d="M508 97.9 510 98.2 512 101.1 512.2 112 510 124 510.3 126 514 130 513.6 132 511 136 510.5 140 512.3 156 513 178 511.5 182 498 195.6 496 196.5 493.7 196 494 194.7 498 187.5 501.2 176 501 174 497.2 168 496.5 166 497.3 164 503.7 158 504.7 156 504 154 499.8 150 499.7 148 504.9 144 505.5 142 505 140 503.4 138 496 130.4 495.7 126 498.4 112 498.4 104 498.9 102 500 100.4 502 99.4 507.5 98Z"/>
</g>
<path d="M123.2 478.9 133.8 473.6 143.4 466.2 147.8 459.2 153.9 453.1 163.5 449.6 174 447.4 182.8 452.2 191.5 457.1 202 459.6M113.6 509.1 125 506.1 127.6 499.5 132 489 138.1 481.1 142.5 476.8 153.9 477.3 165.2 474.1 171.4 471.5 174.9 468 181 472.4 190.6 477.6 195 481.1M212.5 477.6 215.1 475.5 219.5 472.4 222.1 468.9M120.6 545 127.6 535.4 130.2 525.8 132 517M140.8 517 142.5 521.4 147.8 525.8 153.9 530.1 165.2 532.2 169.6 525.8 174.9 519.6 181 524 187.1 529.2 190.6 536.2 195 542.4 196.8 545M212.5 518.8 206.4 512.6 205.5 505.6 216 501.2 230 503M232.4 466.2 232.8 473.2 234.5 477.6 240.6 483.8 248.5 487.2M262.5 488.1 269.5 486.4 274.8 481.1 278.2 474.1M210 503 217 501.2 227.5 503 238 504.8 245 510 248.5 513.5 244.1 518.8 236.2 523.1M229.2 543.2 236.2 539.8 248.5 537.1 262.5 535.4 274.8 533.1 280 537.1 281.8 543.2 280.9 545M343 545 346.5 539.8 350 535.4M350 533.6 357 519.6 367.5 505.6 378 496 386.8 489.4 398.1 493.4 399.9 504.8 416.5 506.5 425.2 517 437.5 527.5 448 535.4 462 541.5M476 541.5 490 537.1M463.8 440 472.5 445.2 483 450.5 490 453.1M490 455.8 500.5 459.2 511 465.4 518 472.4 520.6 480.2 518.9 492.5 514.5 506.5 509.2 518.8 502.2 529.2 495.2 535.4 490 537.1M566.1 482 561.8 490.8 555.6 497.8 549.5 510 542.5 522.2 535.5 534.5 529.4 545M570.9 482 574 490.8 579.2 501.2 586.2 511.8 593.2 522.2 602 532.8 610.8 545M619.8 440 611 448.8 604 459.2 599.6 471.5 598.8 482 602.2 496 609.2 508.2 619.8 518.8 633.8 527.5 647.8 535.4 663.5 538 679.2 540.1 695 535.4 709 527.5 719.5 518.8 724.8 515.2M639.9 462.4 649.5 458.4 656.5 456.6 660.9 453.1 670.5 452.6 675.8 457.5 683.6 462.2 675.8 465.4 670.9 466.2M646 464.5 639.9 462.4M716 545 721.2 540.6 725.6 538.9M275 402.5 276.2 407.5 280 412.5 285 413.8 290 411.2 292.5 406.2 291.2 398.8 290 395M295 395 295 402.5 293.8 408.8 290 415 286.2 418.1 277.5 418.8 273.8 421.9 270 426.2 265 431.2 258.8 437.5 255 442.5 246.2 445 240 450 235 455 233.8 460 235 462.5M315 417.5 307.5 418.8 302.5 423.8 296.2 429.4 286.2 431.2 281.2 436.2 277.5 445 277.5 455 279.4 465 278.8 470M241.9 460 245 453.8 252.5 453.1 258.8 452.5 265 450.6 267.5 455 266.2 462.5 261.2 466.2 256.2 468.8M277.7 401.7 285 395 289 400.3 288.3 407 283.7 408.3 277.7 401.7M275 384.3 281 380.3 285 375.7 288.3 380.3 290.3 388.3 289.7 396.3 290.1 400.3M289.7 339 289 348.3 297 349.7 295.7 357.7 291.7 361.7 289 367 293.7 373.7 297 381.7 297.7 388.3 295 395M305 335 307.7 343 305 351 303.7 359 311.7 364.3 317 368.3 319.7 375 316.3 377.7 313 373.7 309 371 304.3 373 303 377.7 305 384.3 310.3 393.7 315.7 400.3 319.7 397.7 323.7 391 327.7 386.3 335 385M335 384.6 342.9 377.6 350.8 369.8 356 362.8 363 354.9 370 347.9 373.5 346.1M389.2 347 390.1 352.2 386.6 359.2 384.9 368 383.1 376.8 389.2 383.8 398 389.9 408.5 394.2 419 401.2 429.5 407.4 440 413.5M317.5 417.9 328 416.1 338.5 413.9 350.8 412.6 360.4 411.8M374.4 412.1 385.8 414.4 398 417.9 408.5 421.9 422.5 426.6 433 430.1 440 431.9M440 354.9 434.8 362.8 432.1 368 433.9 375.9 440 380.2M440 381.1 444.4 383.8M467.1 386.4 469.8 382 475.9 375 479.4 366.2 482 358.4 476.8 354 468 351.4 457.5 348.8 447 347.4 440 354.9M440 414.4 450.5 418.8 462.8 424 476.8 429.2 487.2 430.6 492.5 425.8 496 418.8 497.8 410 503.9 401.2 510 391.6 518.8 385.5 527.5 379.4 538 374.1 546.8 367.1 559 363.6 569.5 361.4 576.5 360.1M440 431.9 450.5 434.5 461 438 471.5 443.2 475 445M580 391.6 569.5 393.4 559 395.1 551.1 402.1 550.2 410 546.8 415.2 544.1 419.6 548.5 422.2 559 420.5 569.5 417.9 580 415.6M599.7 355 602.5 347.5 601.6 340M631.6 340 631.6 351.2 641.9 360.6 651.2 370.9 664.4 381.2 677.5 388.8 690.6 390.6 701.9 389.7 708.4 384.1 709.4 375.6 711.2 368.1 707.5 361.6 701.9 355 699.1 345.6 697.2 340M596.9 387.8 608.1 385.9 619.4 385 628.8 389.7 638.1 392.5 649.4 398.1 662.5 404.7 675.6 410.3 686.9 413.1 698.1 415 711.2 414.1 724.4 410.3M580 417.8 588.4 421.6 598.8 419.7 608.1 416.9 617.5 419.7 624.1 420.6M637.2 422.5 646.6 427.2 638.1 430 628.8 433.8 620.3 439.4 618.4 445M342.5 235 337.2 240.2 330.2 245.5 323.2 249.9 316.2 252.5 312.8 257.8 307.5 263 302.2 270 297.9 277 295.2 287.5 294.4 296.2 297 300.6 295.2 305M332.9 281.4 327.6 279.6 325 280.5 325 296.2 327.6 306.8 324.1 319 324.1 329.5 325.9 333.9 327.6 331.2 331.1 322.5 335.5 316.4 346 312 354.8 308.5 355.6 299.8 354.8 291 351.2 286.6M340.8 275.2 342.5 272.1 346 270.9 348.6 275.2M430 293.6 421.2 297.1 414.2 299.8 421.2 303.2 426.5 308.5 430 310.2M430 292.8 438.8 287.5 444 280.5 447.5 270 451 259.5 456.2 250.8 463.2 242 472 235.9 473.8 235M521 235 531.5 237.6 542 242 545.5 243.8M430 309.4 444 311.1 458 312.9 477.2 315.5 487.8 319.9 494.8 325.1 496.5 329.5M521 326.9 529.8 321.6 543.8 315.5 556 312 570 308.5M570 247 582 249 594 252 604 257 610 264 613 275 616 286 624 294 636 297 642 300 641 309 637 317 633 327 632 340M570 309 582 311 594 315 604 321 607 327 604 335 602 340M686 267 684 275 682 283 674 289 670 301 666 313 663 323 662 327M680 329 684 325 690 323 697 324 692 331 696 340M726 252 718 257 710 265 704 275 698 285 692 295 688 301 690 307 700 309 710 311 720 315 726 317M726 275 718 280 711 286 708 293 710 299 718 302 726 306M484.5 130 485.4 140.5 488.9 151 487.1 163.2 482.8 173.8 475.8 180.8 465.2 186 454.8 187.8 447.8 183.4 440.8 181.6 432 184.2 423.2 187.8 416.2 195.6 419.8 203.5 416.2 212.2 425 215.8 435.5 217.5 444.2 219.2M468.8 221.9 481 219.2 489.8 215.8 495 207 503.8 200 512.5 193 519.5 187.8 524.8 179 528.2 168.5 530 159.8 528.2 147.5 525.6 137 524.8 130M506.4 130 507.2 140.5 505.5 151 506.4 161.5 503.8 172 502 180.8M509.9 130 510.8 144 512.5 156.2 513.4 170.2 512.5 180.8M501.1 193 499.4 197.4 495 198.2 493.2 194.8 496.8 192.1M460 130 467 137 469.6 145.8 467 156.2 463.5 164.1 458.2 167.6M457.4 130 460.9 137 462.6 147.5 460 156.2 457.4 158.9M474 235 488 231.5 503.8 230.6 519.5 229.8 523 235M458 77.5 457.6 91.5 456.2 103.8 453.6 117.8 452.8 126.5 452.4 135.2M465.9 77.5 464.1 91.5 461.5 105.5 458.9 117.8 458 130M482.5 86.2 479 95 478.1 105.5 473.8 114.2 466.8 119.5 464.1 126.5 465.9 130.9M486 100.2 485.6 112.5 484.2 126.5 484.2 131.8M517.5 86.2 524.5 90.6 529.8 93.2 521 102 524.5 110.8 525.4 126.5 525.4 130.9M506.8 130.9 507 127.4 508.8 126.1 510.5 128.2 510.5 130.9M543.8 120.4 545.5 130M547.5 130 545 142.5 550 152.5 546.2 162.5 551.2 170 560 176.2 567.5 178.8M590 177.5 605 172.5 617.5 170 632.5 172.5 647.5 176.2 665 179.5 685 183 702.5 185.8 709 188M655 163.8 670 167.5 690 168.8 705 167.5 718.8 170M565 147.5 570 155 580 161.2 595 160 607.5 162.5 612.5 162.5 630 167.5 647.5 171.2 665 173.8 685 173.8 705 175 720 178.8 725 182.5M631.2 183.8 650 188.8 665 193.8 680 196.2 692.5 198.8 697.5 203.8 692.5 210 680 217.5 665 223.8 650 228.8 635 232.5M616.2 185 615 195 605 201.2 590 206.2 580 212.5 576.2 220 585 226.2 597.5 231.2 607.5 233.8M708.9 188 716.2 191.7 722.7 196.3 716.2 202.7 708.9 210 701.6 217.4 696.1 224.7 692.4 232.1 687.8 239.4 694.2 242.2 703.4 244.9 711.7 247.7 707.1 252.2 703.4 256.8 696.1 260.5 688.7 264.2 683.2 267.3M725.4 211.9 718.1 216.5 712.6 222.5 718.1 226.6 725.4 231.1M346 226 350.4 230.4 354.8 231.6M363.5 232.1 362.6 238.2 354.8 243.5 346 250.5 337.2 257.5 325 261 319.8 268 314.5 275M377.5 224.2 382.8 219 388 212 391.5 205 392.4 198M295.5 320 300 321.7 300.8 325.8 295.5 328.3M295 335.8 291.7 337.5 289.2 343.3 290 350M314.7 274.7 310 275 306.7 281.7 307.5 290 304.2 295 305.8 301.7 310.8 306.7 309.2 311.7 303.3 314.2 301.7 318.3 306.7 320 312.5 321.7 313.3 325.8 308.3 330 305 333.3" fill="none" stroke="#000" stroke-width="1" stroke-linejoin="round" shape-rendering="crispEdges"/>
<path d="M232 382 231.4 382 231.4 414 233.8 416 236 416.5 240 416.7 244 416.1 246.5 414 246.5 406 246 404 238.1 396 238.1 394 236.1 392 236.1 390 234.1 388 234.1 386 232 384 232 382M201.7 380 203.7 382 203.7 386 205.7 388 205.7 392 207.7 394 207.7 396 209.6 398 209.6 400 211.6 402 211.6 404 213.5 406 213.5 408 224 418.3 236 419.9 244 419.1 250 416 251.6 414 251.6 410 248.6 406 238.8 396 238.8 394 236.8 392 236.8 390 234.8 388 234.8 386 232.7 384 232.7 382 230.7 380M201.3 380 203.3 382 203.3 386 205.2 388 205.2 392 207.1 394 207.1 396 209 398 209 400 210.9 402 210.9 404 212.7 406 212.7 408 219.4 416 219.4 422 222 422.3 223.4 422 223.4 420 224 419.9 226 421.5 230 421.1 236 421.4 244 420.5 252 416.6 253.7 414 253.7 412 252.9 410 239.5 396 239.5 394 237.5 392 237.5 390 235.5 388 235.5 386 233.4 384 233.4 382 231.4 380M200.9 380 202.8 382 202.8 386 204.7 388 204.7 392 206.5 394 206.5 396 208.3 398 208.3 400 210.1 402 210.1 404 211.3 406 211.3 422 214 424.5 216 425.1 220 425.4 230 423.2 244 421.6 252.3 418 254.8 416 255.6 414 255.7 412 254 410.2 254 408.9 256 408.9 258 404 258 396 256 393.9 254 393.9 248 387.9 246 387.9 244 385.9 242 385.9 240 383.9 238 383.9 234.1 380M200.5 380 202.3 382 202.3 386 204.1 388 204.1 392 205.5 394 205.5 422 206.2 424 209.2 426 214 427.5 216 427.6 224 426.7 232 424.7 244 422.6 252 419.3 254.6 418 256.7 416 261.1 406 261.8 404 261.8 400 260.5 398 256 393.2 254 393.2 248 387.2 246 387.2 244 385.2 242 385.2 240 383.2 238 383.2 234.8 380M200 380 200.5 382 200.7 424 201.6 426 204 427.6 214 429.9 228 427.9 238 424.8 246 422.9 252.9 420 256.6 418 258.6 416 262 409.4 263.3 406 263.8 402 262.9 400 261.3 398 256 392.6 254 392.6 248 386.6 246 386.6 244 384.6 242 384.6 240 382.6 238 382.6 235.4 380M167.9 380 169.9 382 169.9 384 171.9 386 171.9 390 173.9 392 173.9 394 175.9 396 175.9 400 177.9 402 177.9 404 179.8 406 179.8 408 181.8 410 181.8 412 183.8 414 183.8 416 194 426.2 196 426.7 200 429.8 204 431.2 214 432.6 230 429.3 238.1 426 246 423.8 255.3 420 258.6 418 260.4 416 262 413.3 264.3 408 265.5 404 265.6 402 263.9 400 264 399.2 266 399.2 266.4 380M167.3 380 169.3 382 169.3 384 171.3 386 171.3 390 173.3 392 173.3 394 175.3 396 175.3 400 177.3 402 177.3 404 179.3 406 179.3 408 181.1 410 181.1 412 183 414 183 416 192.5 426 194 428 194 430 198 436.5 200 437.7 206 436.8 212 436.9 220.7 434 228 432.6 240 426.9 246 424.9 256 420.7 260.4 418 263.4 414 266.5 406 267.6 398 268.4 380M166.8 380 168.8 382 168.8 384 170.8 386 170.8 390 172.8 392 172.8 394 174.8 396 174.8 400 176.8 402 176.8 404 178.7 406 178.7 408 180.5 410 180.5 412 182.3 414 182.3 416 185.9 420 185.9 430 188.3 434 190.5 440 191.9 442 194 442.8 196 442.9 206 442.3 214 442.9 218 442.4 224 440.1 226 438.9 231.1 434 233.8 432 241.2 428 258 420.9 262.4 418 265 414 267.9 406 268.8 400 268.9 392 269.8 386 269.8 380M166.2 380 168.2 382 168.2 384 170.2 386 170.2 390 172.2 392 172.2 394 174.2 396 174.2 400 176.2 402 176.2 404 178.1 406 178.5 410 178.5 430 177.5 434 178.4 438 180 439.8 182 440.8 185 444 188 446 192 447.7 194 447.9 202 446.9 222 449.7 224 449.1 225.1 448 228.9 442 235.6 434 245.1 428 260 421 264.4 418 266.7 414 269.4 406 270.2 392 271.1 386 271.1 382 270.5 380M150 431.4 156.6 438 162 442.4 164 443.1 170 443.6 176 444.8 192 452.3 206 453.7 216 453.9 224 453 226 452 232 442.9 240.4 434 251.6 426 264 420.3 266.4 418 269.2 412 271.1 406 272.4 384 272.2 382 271 380" fill="none" stroke="#000" stroke-width="1" shape-rendering="crispEdges"/>
</g>
<ellipse cx="345.6" cy="325" rx="2.6" ry="2.2" fill="#fff" stroke="#000" stroke-width="1"/>
<ellipse cx="327" cy="351.3" rx="3" ry="2.2" fill="none" stroke="#000" stroke-width="0.9"/>
<ellipse cx="436" cy="230.5" rx="5" ry="4.3" fill="none" stroke="#000" stroke-width="0.9"/>
<ellipse cx="487.6" cy="204.3" rx="1.2" ry="1.2" fill="none" stroke="#000" stroke-width="0.9"/>
<ellipse cx="275.6" cy="428" rx="1.3" ry="1.3" fill="none" stroke="#000" stroke-width="0.9"/>
<ellipse cx="276.6" cy="376.3" rx="1.8" ry="1.4" fill="none" stroke="#000" stroke-width="0.9"/>
<path d="M153.5 54V547M236.5 54V547M318.5 54V547M400.5 54V547M483.5 54V547M565.5 54V547M648.5 54V547M74 72.5H725M74 168.5H725M74 264.5H725M74 359.5H725M74 454.5H725" stroke="#777" stroke-width="1" stroke-dasharray="1.6 4.9" fill="none"/>
<g clip-path="url(#pc)">
<defs><clipPath id="pc"><rect x="73" y="53" width="653" height="495"/></clipPath></defs>
<path d="M112.7 470 108.7 474 105.3 479.3 103.3 484.7 101.3 487.3 94.7 488 93.3 492.7 92 498 94 504.7 96 511.3 98 517.3 92 522.7 94 527.3 96 535.3 97.3 542 97.3 547.3M141.8 435.9 135.6 447.2 129.5 454.2 122.5 460.4 115.5 467.4 109.4 473.5 105 478.8 102.4 485.8 94.5 488.4M141.8 435.9 138.2 439.4 133 445.5 126 451.6 117.2 458.6 112 462.1 114.6 450.8 114.6 442 117.2 437.6 122.5 434.1 129.5 428 137.4 421.9 141.8 421 146.1 421.9 146.1 428 150.5 422.8 144.4 417.5 139.1 415.8 137.4 418.4 132.1 423.6 124.2 428.9 119.9 428 122.5 419.2 124.2 411.4 133 408.8 141.8 406.1 143.5 400M142.5 402.5 143.4 397.2 140.8 390.2 134.6 385 132 378.9 132.9 372.8 135.5 367.5 142.5 364 148.6 359.6 160 360.5 166.1 362.2 171.4 367.5 165.2 371.9 161.8 377.1 160.9 383.2 163.5 388.5 170.5 392 177.5 393.8 177.1 399 174 403.9 167 406.4 159.1 408.1 149.5 408.6 152.1 417.4 160 414.4 167 410.4 174 404.6 181 402.1 195 399.9 212.5 397.6 230 395.9M278 300 275.2 309.2 271.6 318.3 256.9 319.3 256 322.9 259.6 329.4 266.4 332.7 263.3 337.6 262 347.7 261.5 358.7 258.7 369.7 256.9 378.9 254.1 388.1 248.6 393.6 236.7 395 231.2 395.8M305 230 297.5 233.8 290 238.1 282.5 242.5 276.2 245.6 271.2 248.8 267.5 251.9 262.5 257.5 256.9 263.8 251.9 268.8 258.8 275.6 263.1 270 268.1 274.4 273.8 275 276.9 272.5 276.9 280 275.6 283.8 278.1 291.2 278.8 296.2 277.2 302.5M360 192.5 354 194 348 198.5 342 203.8 336 206 330 209 324 213.5 318 218 312 222.5 306 227.8 300 230.8 294 235.2 288 239 282 243.5 276 246.5 268.5 251.8 262.5 257 260.2 260M268.5 251 262.5 255.5 254.2 256.2 252 245 252 234.5 254.2 225.5 255.8 215 256.5 206 258.8 204.2 267 206.8 266.7 215 267 225.5 272.2 231.5 273.8 239 275.2 244.2 280.5 240.5M294 234.5 292.5 230.8 288 227 288 221 290.2 217.2 299.2 214.2 304.5 218.8 303.8 207.5 309.8 212 312.8 202.2 319.5 198.5 325.5 203.8 333.8 202.2 335.2 192.5 342 198.5 342 203.8M483.8 55.5 470 58.8 460 61.2 447.5 65 441.2 68.8 445 75 446.2 85 443.8 93.8 437.5 100 427.5 103.8 426.2 106.2 428.8 112.5 426.2 118.8 420 125 413.8 131.2 410 137.5 403.8 143.8 402.5 150 397.5 155 390 160 381.2 165 372.5 175 367.5 182.5 358.8 191.2 352.5 195M336.2 102.5 341.2 96.2 350 93.8 355 98.8 361.2 103.8 366.2 101.2 372.5 108.8 380 116.2 386.2 123.8 390 132.5 396.2 140 395.5 148.8 388.8 152.5 383.8 142.5 376.2 130 367.5 125 358.8 123.8 350 118.8 342.5 112.5 336.2 102.5M724.7 60.2 718.3 63.8 714.1 69.1 710.9 75.5 704.5 78.7 693.9 77.2 685.4 73.4 674.8 71.7 659.9 71.2 647.1 71.7 634.4 69.1 621.6 66.6 608.9 63.2 596.1 62.3 585.5 64.5 575.9 63.8 569.6 58.9 577 67 585.5 74.4 592.9 81.5 597.2 75.5 606.8 73.4 617.4 75.5 625.9 78.7 634.4 81.9 647.1 81.5 652.4 88.2 657.3 95 649.2 97.2 642.9 101 632.2 102.1 621.6 102.1 613.1 105.2 608.9 107.4 613.1 112.7 621.6 114.8 630.1 112 638.6 113.8 647.1 117.6 655.6 119.1 662 123.3 667.3 128.6 676.9 130.3 685.4 131.8 690.7 139.2 698.1 145.6 708.8 149.9 719.4 152 725.8 153.1M668.4 54.7 670.5 59.6 675.8 58.5 681.1 54.7 687.5 53.8 693.9 58.5 700.2 60.6 713 60.2 723.6 57.4 725.8 55.3" fill="none" stroke="#000" stroke-width="3" stroke-linejoin="round" stroke-linecap="round" shape-rendering="crispEdges"/>
<path d="M568.5 98.9 565.3 103.1 568.5 109.9 574.9 116.9 585.5 121.4 598.2 125.6 613.1 128.8 630.1 132 645 134.1 657.8 136.3 669.4 137.6M568.5 98.9 569.8 105.2 575.3 113.8 583.8 118.2 596.5 122 611.4 125.2 628.4 128.8 645.4 132.2 660.3 135 669.4 137.1" fill="none" stroke="#000" stroke-width="2.3" stroke-linejoin="round" stroke-linecap="round" shape-rendering="crispEdges"/>
</g>
<g font-family="Liberation Sans, sans-serif" font-size="11.5" fill="#000" text-anchor="middle">
<rect x="127.6" y="505.0" width="14" height="11" fill="#fff"/>
<text x="134.6" y="515.2" textLength="12" lengthAdjust="spacingAndGlyphs">18</text>
<rect x="191.5" y="477.8" width="24.5" height="11" fill="#fff"/>
<text x="203.8" y="487.9" textLength="22.5" lengthAdjust="spacingAndGlyphs">17.8</text>
<rect x="201.2" y="433.6" width="24.75" height="11" fill="#fff"/>
<text x="213.6" y="443.8" textLength="22.75" lengthAdjust="spacingAndGlyphs">17.0</text>
<rect x="201.2" y="442.6" width="24.75" height="11" fill="#fff"/>
<text x="213.6" y="452.8" textLength="22.75" lengthAdjust="spacingAndGlyphs">17.2</text>
<rect x="201.2" y="450.2" width="24.75" height="11" fill="#fff"/>
<text x="213.6" y="460.4" textLength="22.75" lengthAdjust="spacingAndGlyphs">17.4</text>
<rect x="201.2" y="457.8" width="24.75" height="11" fill="#fff"/>
<text x="213.6" y="468.0" textLength="22.75" lengthAdjust="spacingAndGlyphs">17.6</text>
<rect x="211.2" y="518.5" width="24.5" height="11" fill="#fff"/>
<text x="223.5" y="528.7" textLength="22.5" lengthAdjust="spacingAndGlyphs">17.8</text>
<rect x="231.8" y="462.0" width="24.5" height="11" fill="#fff"/>
<text x="244.1" y="472.2" textLength="22.5" lengthAdjust="spacingAndGlyphs">18.2</text>
<rect x="248.5" y="481.8" width="14" height="11" fill="#fff"/>
<text x="255.5" y="492.0" textLength="12" lengthAdjust="spacingAndGlyphs">18</text>
<rect x="461.6" y="534.8" width="14" height="11" fill="#fff"/>
<text x="468.6" y="545.0" textLength="12" lengthAdjust="spacingAndGlyphs">18</text>
<rect x="555.2" y="469.7" width="24.5" height="11" fill="#fff"/>
<text x="567.5" y="479.9" textLength="22.5" lengthAdjust="spacingAndGlyphs">18.2</text>
<rect x="646.5" y="460.2" width="24.5" height="11" fill="#fff"/>
<text x="658.8" y="470.4" textLength="22.5" lengthAdjust="spacingAndGlyphs">17.8</text>
<rect x="371.4" y="335.5" width="24.5" height="11" fill="#fff"/>
<text x="383.6" y="345.7" textLength="22.5" lengthAdjust="spacingAndGlyphs">18.2</text>
<rect x="360.4" y="404.9" width="14" height="11" fill="#fff"/>
<text x="367.4" y="415.1" textLength="12" lengthAdjust="spacingAndGlyphs">18</text>
<rect x="444.4" y="385.6" width="24.5" height="11" fill="#fff"/>
<text x="456.6" y="395.8" textLength="22.5" lengthAdjust="spacingAndGlyphs">18.4</text>
<rect x="574.8" y="352.5" width="24.5" height="11" fill="#fff"/>
<text x="587.0" y="362.7" textLength="22.5" lengthAdjust="spacingAndGlyphs">18.2</text>
<rect x="582.4" y="380.0" width="14" height="11" fill="#fff"/>
<text x="589.4" y="390.2" textLength="12" lengthAdjust="spacingAndGlyphs">18</text>
<rect x="623.2" y="413.0" width="14" height="11" fill="#fff"/>
<text x="630.2" y="423.2" textLength="12" lengthAdjust="spacingAndGlyphs">18</text>
<rect x="332.9" y="275.0" width="24.5" height="11" fill="#fff"/>
<text x="345.1" y="285.2" textLength="22.5" lengthAdjust="spacingAndGlyphs">18.4</text>
<rect x="545.5" y="236.0" width="24.5" height="11" fill="#fff"/>
<text x="557.8" y="246.2" textLength="22.5" lengthAdjust="spacingAndGlyphs">18.2</text>
<rect x="494.8" y="327.4" width="24.5" height="11" fill="#fff"/>
<text x="507.0" y="337.6" textLength="22.5" lengthAdjust="spacingAndGlyphs">18.2</text>
<rect x="656.8" y="326.0" width="24.5" height="11" fill="#fff"/>
<text x="669.0" y="336.2" textLength="22.5" lengthAdjust="spacingAndGlyphs">18.2</text>
<rect x="444.2" y="216.4" width="24.5" height="11" fill="#fff"/>
<text x="456.5" y="226.6" textLength="22.5" lengthAdjust="spacingAndGlyphs">18.4</text>
<rect x="492.8" y="181.0" width="24.5" height="11" fill="#fff"/>
<text x="505.0" y="191.2" textLength="22.5" lengthAdjust="spacingAndGlyphs">18.6</text>
<rect x="485.1" y="88.7" width="24.5" height="11" fill="#fff"/>
<text x="497.4" y="98.9" textLength="22.5" lengthAdjust="spacingAndGlyphs">18.4</text>
<rect x="565.8" y="171.8" width="24.5" height="11" fill="#fff"/>
<text x="578.0" y="181.9" textLength="22.5" lengthAdjust="spacingAndGlyphs">18.2</text>
<rect x="606.5" y="173.8" width="24.5" height="11" fill="#fff"/>
<text x="618.8" y="183.9" textLength="22.5" lengthAdjust="spacingAndGlyphs">18.4</text>
<rect x="606.5" y="226.5" width="24.5" height="11" fill="#fff"/>
<text x="618.8" y="236.7" textLength="22.5" lengthAdjust="spacingAndGlyphs">18.4</text>
<rect x="353.4" y="221.2" width="24.5" height="11" fill="#fff"/>
<text x="365.6" y="231.4" textLength="22.5" lengthAdjust="spacingAndGlyphs">18.2</text>
</g>
<rect x="73" y="53" width="653" height="495" fill="none" stroke="#000" stroke-width="2" shape-rendering="crispEdges"/>
<path d="M153.5 549V552M236.5 549V552M318.5 549V552M400.5 549V552M483.5 549V552M565.5 549V552M648.5 549V552M68 72.5H72M68 168.5H72M68 264.5H72M68 359.5H72M68 454.5H72" stroke="#000" stroke-width="1" fill="none" shape-rendering="crispEdges"/>
<g font-family="Liberation Sans, sans-serif" fill="#000">
<text x="75.5" y="41.5" font-size="24" textLength="77.0" lengthAdjust="spacingAndGlyphs">Salinity</text>
<text x="169" y="41.5" font-size="24" textLength="61" lengthAdjust="spacingAndGlyphs">(ppt).</text>
<text x="249" y="41.5" font-size="24" textLength="45" lengthAdjust="spacingAndGlyphs">Date</text>
<text x="310" y="41.5" font-size="24" textLength="132.5" lengthAdjust="spacingAndGlyphs">2010.12.04.</text>
<text x="461" y="41.5" font-size="24" textLength="49" lengthAdjust="spacingAndGlyphs">Time</text>
<text x="526" y="41.5" font-size="24" textLength="140" lengthAdjust="spacingAndGlyphs">00(h):00(m)</text>
<text x="682.5" y="41.5" font-size="24" textLength="41.5" lengthAdjust="spacingAndGlyphs">GMT</text>
<text x="153.2" y="562.5" font-size="12" text-anchor="middle">29</text>
<text x="235.6" y="562.5" font-size="12" text-anchor="middle">29.5</text>
<text x="318.0" y="562.5" font-size="12" text-anchor="middle">30</text>
<text x="400.4" y="562.5" font-size="12" text-anchor="middle">30.5</text>
<text x="482.8" y="562.5" font-size="12" text-anchor="middle">31</text>
<text x="565.1" y="562.5" font-size="12" text-anchor="middle">31.5</text>
<text x="647.5" y="562.5" font-size="12" text-anchor="middle">32</text>
<text x="66.5" y="76.7" font-size="12" text-anchor="end">46.5</text>
<text x="66.5" y="172.2" font-size="12" text-anchor="end">46</text>
<text x="66.5" y="267.7" font-size="12" text-anchor="end">45.5</text>
<text x="66.5" y="363.2" font-size="12" text-anchor="end">45</text>
<text x="66.5" y="458.7" font-size="12" text-anchor="end">44.5</text>
<text x="323.5" y="588.5" font-size="18.5" textLength="86" lengthAdjust="spacingAndGlyphs" stroke="#000" stroke-width="0.25">Longitude</text>
<text x="421.5" y="588.5" font-size="18.5" textLength="54.5" lengthAdjust="spacingAndGlyphs" stroke="#000" stroke-width="0.25">(East)</text>
<g transform="translate(29.7,372.5) rotate(-90)"><text x="0" y="0" font-size="18.5" textLength="69.5" lengthAdjust="spacingAndGlyphs" stroke="#000" stroke-width="0.25">Latitude</text><text x="81" y="0" font-size="18.5" textLength="64" lengthAdjust="spacingAndGlyphs" stroke="#000" stroke-width="0.25">(North)</text></g>
<text x="761" y="71.5" font-size="15.5" textLength="29" lengthAdjust="spacingAndGlyphs">18.6</text>
<text x="761" y="185.5" font-size="15.5" textLength="29" lengthAdjust="spacingAndGlyphs">17.8</text>
<text x="761" y="303.5" font-size="15.5" textLength="29" lengthAdjust="spacingAndGlyphs">17.0</text>
<text x="761" y="422.5" font-size="15.5" textLength="29" lengthAdjust="spacingAndGlyphs">16.2</text>
<text x="761" y="540.5" font-size="15.5" textLength="29" lengthAdjust="spacingAndGlyphs">15.4</text>
<text x="110.5" y="107" font-size="19.5" textLength="12.0" lengthAdjust="spacingAndGlyphs" fill="#222">Z</text>
<text x="138.75" y="107" font-size="19.5" textLength="14.25" lengthAdjust="spacingAndGlyphs" fill="#222">=</text>
<text x="170.5" y="107" font-size="19.5" textLength="32.5" lengthAdjust="spacingAndGlyphs" fill="#222">2.5</text>
<text x="220.5" y="107" font-size="19.5" textLength="16.5" lengthAdjust="spacingAndGlyphs" fill="#222">m</text>
</g>
<rect x="734" y="533.48" width="15" height="7.82" fill="#000087" shape-rendering="crispEdges"/>
<rect x="734" y="525.97" width="15" height="7.82" fill="#000097" shape-rendering="crispEdges"/>
<rect x="734" y="518.45" width="15" height="7.82" fill="#0000a7" shape-rendering="crispEdges"/>
<rect x="734" y="510.94" width="15" height="7.82" fill="#0000b7" shape-rendering="crispEdges"/>
<rect x="734" y="503.42" width="15" height="7.82" fill="#0000c7" shape-rendering="crispEdges"/>
<rect x="734" y="495.91" width="15" height="7.82" fill="#0000d7" shape-rendering="crispEdges"/>
<rect x="734" y="488.39" width="15" height="7.82" fill="#0000e7" shape-rendering="crispEdges"/>
<rect x="734" y="480.88" width="15" height="7.82" fill="#0000f7" shape-rendering="crispEdges"/>
<rect x="734" y="473.36" width="15" height="7.82" fill="#0008ff" shape-rendering="crispEdges"/>
<rect x="734" y="465.84" width="15" height="7.82" fill="#0018ff" shape-rendering="crispEdges"/>
<rect x="734" y="458.33" width="15" height="7.82" fill="#0028ff" shape-rendering="crispEdges"/>
<rect x="734" y="450.81" width="15" height="7.82" fill="#0038ff" shape-rendering="crispEdges"/>
<rect x="734" y="443.30" width="15" height="7.82" fill="#0048ff" shape-rendering="crispEdges"/>
<rect x="734" y="435.78" width="15" height="7.82" fill="#0058ff" shape-rendering="crispEdges"/>
<rect x="734" y="428.27" width="15" height="7.82" fill="#0068ff" shape-rendering="crispEdges"/>
<rect x="734" y="420.75" width="15" height="7.82" fill="#0078ff" shape-rendering="crispEdges"/>
<rect x="734" y="413.23" width="15" height="7.82" fill="#0087ff" shape-rendering="crispEdges"/>
<rect x="734" y="405.72" width="15" height="7.82" fill="#0097ff" shape-rendering="crispEdges"/>
<rect x="734" y="398.20" width="15" height="7.82" fill="#00a7ff" shape-rendering="crispEdges"/>
<rect x="734" y="390.69" width="15" height="7.82" fill="#00b7ff" shape-rendering="crispEdges"/>
<rect x="734" y="383.17" width="15" height="7.82" fill="#00c7ff" shape-rendering="crispEdges"/>
<rect x="734" y="375.66" width="15" height="7.82" fill="#00d7ff" shape-rendering="crispEdges"/>
<rect x="734" y="368.14" width="15" height="7.82" fill="#00e7ff" shape-rendering="crispEdges"/>
<rect x="734" y="360.62" width="15" height="7.82" fill="#00f7ff" shape-rendering="crispEdges"/>
<rect x="734" y="353.11" width="15" height="7.82" fill="#08fff7" shape-rendering="crispEdges"/>
<rect x="734" y="345.59" width="15" height="7.82" fill="#18ffe7" shape-rendering="crispEdges"/>
<rect x="734" y="338.08" width="15" height="7.82" fill="#28ffd7" shape-rendering="crispEdges"/>
<rect x="734" y="330.56" width="15" height="7.82" fill="#38ffc7" shape-rendering="crispEdges"/>
<rect x="734" y="323.05" width="15" height="7.82" fill="#48ffb7" shape-rendering="crispEdges"/>
<rect x="734" y="315.53" width="15" height="7.82" fill="#58ffa7" shape-rendering="crispEdges"/>
<rect x="734" y="308.02" width="15" height="7.82" fill="#68ff97" shape-rendering="crispEdges"/>
<rect x="734" y="300.50" width="15" height="7.82" fill="#78ff87" shape-rendering="crispEdges"/>
<rect x="734" y="292.98" width="15" height="7.82" fill="#87ff78" shape-rendering="crispEdges"/>
<rect x="734" y="285.47" width="15" height="7.82" fill="#97ff68" shape-rendering="crispEdges"/>
<rect x="734" y="277.95" width="15" height="7.82" fill="#a7ff58" shape-rendering="crispEdges"/>
<rect x="734" y="270.44" width="15" height="7.82" fill="#b7ff48" shape-rendering="crispEdges"/>
<rect x="734" y="262.92" width="15" height="7.82" fill="#c7ff38" shape-rendering="crispEdges"/>
<rect x="734" y="255.41" width="15" height="7.82" fill="#d7ff28" shape-rendering="crispEdges"/>
<rect x="734" y="247.89" width="15" height="7.82" fill="#e7ff18" shape-rendering="crispEdges"/>
<rect x="734" y="240.38" width="15" height="7.82" fill="#f7ff08" shape-rendering="crispEdges"/>
<rect x="734" y="232.86" width="15" height="7.82" fill="#fff700" shape-rendering="crispEdges"/>
<rect x="734" y="225.34" width="15" height="7.82" fill="#ffe700" shape-rendering="crispEdges"/>
<rect x="734" y="217.83" width="15" height="7.82" fill="#ffd700" shape-rendering="crispEdges"/>
<rect x="734" y="210.31" width="15" height="7.82" fill="#ffc700" shape-rendering="crispEdges"/>
<rect x="734" y="202.80" width="15" height="7.82" fill="#ffb700" shape-rendering="crispEdges"/>
<rect x="734" y="195.28" width="15" height="7.82" fill="#ffa700" shape-rendering="crispEdges"/>
<rect x="734" y="187.77" width="15" height="7.82" fill="#ff9700" shape-rendering="crispEdges"/>
<rect x="734" y="180.25" width="15" height="7.82" fill="#ff8700" shape-rendering="crispEdges"/>
<rect x="734" y="172.73" width="15" height="7.82" fill="#ff7800" shape-rendering="crispEdges"/>
<rect x="734" y="165.22" width="15" height="7.82" fill="#ff6800" shape-rendering="crispEdges"/>
<rect x="734" y="157.70" width="15" height="7.82" fill="#ff5800" shape-rendering="crispEdges"/>
<rect x="734" y="150.19" width="15" height="7.82" fill="#ff4800" shape-rendering="crispEdges"/>
<rect x="734" y="142.67" width="15" height="7.82" fill="#ff3800" shape-rendering="crispEdges"/>
<rect x="734" y="135.16" width="15" height="7.82" fill="#ff2800" shape-rendering="crispEdges"/>
<rect x="734" y="127.64" width="15" height="7.82" fill="#ff1800" shape-rendering="crispEdges"/>
<rect x="734" y="120.12" width="15" height="7.82" fill="#ff0800" shape-rendering="crispEdges"/>
<rect x="734" y="112.61" width="15" height="7.82" fill="#f70000" shape-rendering="crispEdges"/>
<rect x="734" y="105.09" width="15" height="7.82" fill="#e70000" shape-rendering="crispEdges"/>
<rect x="734" y="97.58" width="15" height="7.82" fill="#d70000" shape-rendering="crispEdges"/>
<rect x="734" y="90.06" width="15" height="7.82" fill="#c70000" shape-rendering="crispEdges"/>
<rect x="734" y="82.55" width="15" height="7.82" fill="#b70000" shape-rendering="crispEdges"/>
<rect x="734" y="75.03" width="15" height="7.82" fill="#a70000" shape-rendering="crispEdges"/>
<rect x="734" y="67.52" width="15" height="7.82" fill="#970000" shape-rendering="crispEdges"/>
<rect x="734" y="60.00" width="15" height="7.82" fill="#870000" shape-rendering="crispEdges"/>
</svg></body></html>
